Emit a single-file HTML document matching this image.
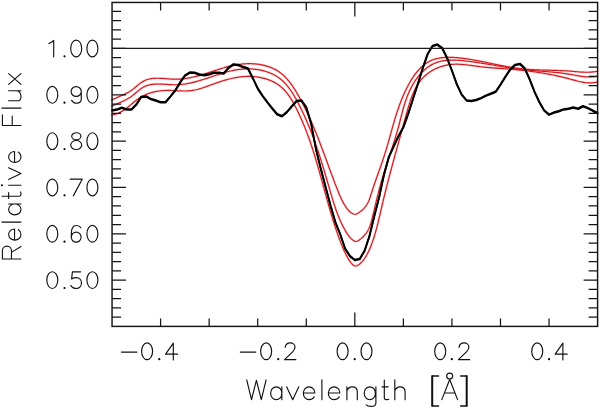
<!DOCTYPE html>
<html><head><meta charset="utf-8"><style>
html,body{margin:0;padding:0;background:#fff;width:600px;height:407px;overflow:hidden;font-family:"Liberation Sans",sans-serif}
svg{display:block}
</style></head><body>
<svg width="600" height="407" viewBox="0 0 600 407">
<rect width="600" height="407" fill="#fff"/>
<g fill="none" stroke-linejoin="round" stroke-linecap="round">
<g stroke="#ff4a4a" stroke-width="2.6" opacity="0.2">
<path d="M111.60,114.90 L112.75,114.76 L113.87,114.56 L114.96,114.32 L116.02,114.02 L117.06,113.68 L118.08,113.29 L119.08,112.87 L120.05,112.40 L121.00,111.90 L121.94,111.37 L122.86,110.81 L123.77,110.22 L124.66,109.60 L125.55,108.97 L126.42,108.31 L127.28,107.64 L128.13,106.96 L128.98,106.26 L129.83,105.56 L130.67,104.86 L131.51,104.15 L132.36,103.44 L133.20,102.73 L134.04,102.03 L134.90,101.34 L135.75,100.66 L136.62,100.00 L137.49,99.35 L138.37,98.72 L139.27,98.12 L140.18,97.53 L141.10,96.98 L142.04,96.45 L142.98,95.94 L143.94,95.46 L144.91,95.01 L145.89,94.57 L146.89,94.16 L147.89,93.78 L148.90,93.42 L149.91,93.07 L150.94,92.76 L151.97,92.46 L153.02,92.19 L154.06,91.93 L155.12,91.70 L156.18,91.49 L157.24,91.30 L158.31,91.12 L159.38,90.97 L160.46,90.84 L161.54,90.73 L162.62,90.63 L163.71,90.55 L164.79,90.50 L165.88,90.46 L166.96,90.43 L168.05,90.43 L169.14,90.43 L170.22,90.45 L171.31,90.49 L172.40,90.52 L173.48,90.57 L174.57,90.62 L175.65,90.68 L176.74,90.73 L177.82,90.79 L178.90,90.84 L179.99,90.89 L181.07,90.93 L182.15,90.96 L183.23,90.98 L184.30,90.99 L185.38,90.98 L186.45,90.96 L187.53,90.92 L188.60,90.86 L189.67,90.78 L190.74,90.67 L191.80,90.54 L192.87,90.38 L193.93,90.20 L194.99,89.98 L196.05,89.75 L197.10,89.49 L198.16,89.22 L199.21,88.92 L200.26,88.61 L201.31,88.28 L202.36,87.95 L203.40,87.60 L204.45,87.24 L205.49,86.87 L206.53,86.50 L207.57,86.12 L208.61,85.74 L209.65,85.36 L210.69,84.98 L211.72,84.60 L212.76,84.23 L213.79,83.86 L214.82,83.49 L215.85,83.12 L216.89,82.76 L217.92,82.41 L218.95,82.06 L219.98,81.72 L221.02,81.38 L222.05,81.05 L223.09,80.73 L224.12,80.41 L225.16,80.10 L226.20,79.80 L227.24,79.52 L228.28,79.24 L229.32,78.97 L230.37,78.71 L231.42,78.46 L232.47,78.22 L233.53,78.00 L234.58,77.79 L235.64,77.59 L236.71,77.41 L237.78,77.24 L238.85,77.08 L239.92,76.94 L241.00,76.82 L242.09,76.71 L243.17,76.62 L244.27,76.54 L245.36,76.48 L246.46,76.44 L247.57,76.42 L248.67,76.41 L249.77,76.42 L250.88,76.45 L251.99,76.50 L253.09,76.57 L254.20,76.65 L255.30,76.76 L256.40,76.88 L257.49,77.03 L258.58,77.19 L259.67,77.37 L260.75,77.58 L261.83,77.80 L262.89,78.05 L263.95,78.31 L265.01,78.60 L266.05,78.90 L267.08,79.23 L268.11,79.58 L269.12,79.95 L270.12,80.34 L271.11,80.76 L272.09,81.19 L273.05,81.65 L274.00,82.14 L274.93,82.64 L275.85,83.17 L276.75,83.72 L277.64,84.30 L278.50,84.90 L279.35,85.52 L280.18,86.17 L280.99,86.84 L281.79,87.53 L282.56,88.25 L283.32,88.99 L284.06,89.74 L284.78,90.52 L285.49,91.32 L286.18,92.13 L286.86,92.96 L287.52,93.81 L288.17,94.67 L288.81,95.55 L289.43,96.44 L290.04,97.35 L290.64,98.26 L291.23,99.19 L291.80,100.13 L292.37,101.08 L292.92,102.03 L293.47,103.00 L294.00,103.97 L294.53,104.95 L295.05,105.93 L295.57,106.92 L296.07,107.91 L296.57,108.90 L297.07,109.90 L297.55,110.90 L298.04,111.90 L298.51,112.90 L298.98,113.90 L299.45,114.90 L299.91,115.91 L300.37,116.91 L300.82,117.92 L301.27,118.92 L301.71,119.93 L302.15,120.94 L302.58,121.95 L303.01,122.97 L303.43,123.98 L303.85,124.99 L304.26,126.01 L304.68,127.02 L305.08,128.04 L305.48,129.06 L305.88,130.08 L306.27,131.10 L306.66,132.12 L307.05,133.14 L307.43,134.16 L307.81,135.18 L308.19,136.21 L308.56,137.23 L308.92,138.26 L309.29,139.29 L309.65,140.31 L310.01,141.34 L310.36,142.37 L310.71,143.40 L311.06,144.43 L311.41,145.46 L311.75,146.49 L312.09,147.53 L312.43,148.56 L312.76,149.59 L313.09,150.63 L313.42,151.66 L313.75,152.70 L314.07,153.73 L314.39,154.77 L314.71,155.81 L315.03,156.85 L315.34,157.88 L315.66,158.92 L315.97,159.96 L316.28,161.00 L316.58,162.04 L316.89,163.08 L317.19,164.12 L317.50,165.16 L317.80,166.20 L318.10,167.25 L318.40,168.29 L318.69,169.33 L318.99,170.37 L319.28,171.42 L319.57,172.46 L319.87,173.50 L320.16,174.55 L320.45,175.59 L320.74,176.64 L321.03,177.68 L321.32,178.73 L321.60,179.77 L321.89,180.82 L322.18,181.86 L322.46,182.91 L322.75,183.95 L323.04,185.00 L323.32,186.04 L323.61,187.09 L323.89,188.13 L324.18,189.18 L324.46,190.22 L324.75,191.27 L325.04,192.31 L325.32,193.36 L325.61,194.40 L325.90,195.45 L326.19,196.49 L326.48,197.54 L326.77,198.58 L327.06,199.63 L327.35,200.67 L327.64,201.71 L327.93,202.76 L328.23,203.80 L328.52,204.85 L328.82,205.89 L329.12,206.93 L329.42,207.97 L329.72,209.02 L330.02,210.06 L330.33,211.10 L330.63,212.14 L330.94,213.18 L331.25,214.22 L331.56,215.26 L331.88,216.30 L332.19,217.34 L332.51,218.38 L332.83,219.42 L333.15,220.45 L333.48,221.49 L333.80,222.53 L334.13,223.56 L334.46,224.60 L334.80,225.63 L335.14,226.67 L335.48,227.70 L335.82,228.73 L336.17,229.77 L336.51,230.80 L336.87,231.83 L337.22,232.86 L337.58,233.89 L337.94,234.92 L338.31,235.95 L338.68,236.97 L339.05,238.00 L339.42,239.02 L339.80,240.05 L340.19,241.07 L340.57,242.10 L340.96,243.12 L341.36,244.13 L341.77,245.15 L342.17,246.16 L342.59,247.17 L343.01,248.17 L343.44,249.16 L343.88,250.15 L344.33,251.14 L344.79,252.11 L345.26,253.08 L345.73,254.04 L346.22,254.99 L346.72,255.94 L347.24,256.88 L347.77,257.82 L348.33,258.75 L348.90,259.69 L349.51,260.64 L350.15,261.59 L350.81,262.54 L351.52,263.44 L352.28,264.28 L353.09,265.00 L353.96,265.58 L354.88,265.95 L355.84,266.02 L356.81,265.76 L357.77,265.28 L358.70,264.67 L359.59,263.99 L360.43,263.26 L361.24,262.49 L362.01,261.69 L362.74,260.86 L363.44,260.00 L364.10,259.13 L364.74,258.24 L365.34,257.34 L365.92,256.42 L366.47,255.49 L366.99,254.54 L367.50,253.59 L367.99,252.62 L368.46,251.64 L368.92,250.66 L369.36,249.67 L369.79,248.68 L370.21,247.68 L370.62,246.68 L371.02,245.68 L371.42,244.67 L371.80,243.66 L372.17,242.64 L372.54,241.62 L372.90,240.60 L373.25,239.57 L373.59,238.54 L373.92,237.51 L374.25,236.47 L374.57,235.43 L374.89,234.39 L375.19,233.35 L375.50,232.30 L375.79,231.25 L376.08,230.21 L376.37,229.15 L376.65,228.10 L376.93,227.05 L377.20,225.99 L377.47,224.93 L377.73,223.87 L378.00,222.81 L378.25,221.75 L378.51,220.69 L378.76,219.63 L379.01,218.57 L379.26,217.50 L379.51,216.44 L379.76,215.38 L380.00,214.31 L380.25,213.25 L380.49,212.19 L380.74,211.13 L380.98,210.06 L381.23,209.00 L381.47,207.94 L381.72,206.88 L381.96,205.83 L382.21,204.77 L382.46,203.71 L382.71,202.66 L382.96,201.60 L383.22,200.55 L383.47,199.50 L383.72,198.45 L383.98,197.40 L384.24,196.35 L384.49,195.30 L384.75,194.25 L385.01,193.20 L385.27,192.15 L385.53,191.11 L385.80,190.06 L386.06,189.01 L386.32,187.97 L386.59,186.93 L386.85,185.88 L387.12,184.84 L387.39,183.80 L387.65,182.75 L387.92,181.71 L388.19,180.67 L388.46,179.63 L388.73,178.59 L389.01,177.54 L389.28,176.50 L389.55,175.46 L389.83,174.42 L390.10,173.38 L390.38,172.34 L390.65,171.30 L390.93,170.26 L391.21,169.22 L391.49,168.18 L391.77,167.14 L392.05,166.10 L392.33,165.06 L392.61,164.02 L392.89,162.98 L393.17,161.94 L393.45,160.90 L393.74,159.86 L394.02,158.82 L394.31,157.78 L394.59,156.74 L394.88,155.70 L395.16,154.65 L395.45,153.61 L395.74,152.57 L396.02,151.52 L396.31,150.48 L396.60,149.43 L396.89,148.39 L397.18,147.34 L397.47,146.30 L397.76,145.25 L398.05,144.20 L398.34,143.16 L398.63,142.11 L398.92,141.06 L399.22,140.01 L399.51,138.96 L399.80,137.90 L400.10,136.85 L400.39,135.80 L400.68,134.74 L400.98,133.69 L401.27,132.63 L401.57,131.57 L401.86,130.52 L402.16,129.46 L402.45,128.40 L402.75,127.33 L403.05,126.27 L403.34,125.21 L403.64,124.14 L403.94,123.08 L404.23,122.01 L404.53,120.94 L404.83,119.87 L405.13,118.80 L405.42,117.73 L405.72,116.65 L406.02,115.58 L406.32,114.50 L406.61,113.42 L406.91,112.34 L407.21,111.26 L407.52,110.18 L407.82,109.11 L408.13,108.03 L408.44,106.95 L408.76,105.88 L409.08,104.81 L409.41,103.75 L409.75,102.68 L410.09,101.63 L410.44,100.57 L410.79,99.53 L411.16,98.49 L411.53,97.45 L411.92,96.42 L412.31,95.40 L412.72,94.39 L413.13,93.39 L413.56,92.39 L414.01,91.41 L414.46,90.43 L414.93,89.47 L415.42,88.52 L415.92,87.58 L416.43,86.65 L416.96,85.73 L417.51,84.83 L418.08,83.94 L418.66,83.07 L419.27,82.21 L419.89,81.37 L420.53,80.54 L421.20,79.73 L421.88,78.93 L422.59,78.15 L423.32,77.39 L424.07,76.65 L424.84,75.93 L425.63,75.23 L426.45,74.54 L427.28,73.88 L428.13,73.24 L429.00,72.61 L429.89,72.01 L430.79,71.42 L431.71,70.86 L432.65,70.32 L433.60,69.80 L434.56,69.30 L435.54,68.82 L436.53,68.36 L437.52,67.93 L438.53,67.52 L439.56,67.13 L440.58,66.77 L441.62,66.43 L442.67,66.11 L443.72,65.81 L444.78,65.55 L445.85,65.30 L446.92,65.08 L447.99,64.89 L449.07,64.72 L450.15,64.57 L451.23,64.45 L452.31,64.36 L453.40,64.29 L454.48,64.24 L455.57,64.21 L456.66,64.21 L457.75,64.22 L458.84,64.25 L459.94,64.30 L461.03,64.36 L462.12,64.44 L463.22,64.53 L464.31,64.63 L465.41,64.74 L466.51,64.86 L467.60,64.99 L468.70,65.12 L469.79,65.27 L470.89,65.41 L471.98,65.56 L473.08,65.71 L474.17,65.86 L475.27,66.02 L476.36,66.17 L477.45,66.32 L478.55,66.46 L479.64,66.60 L480.73,66.73 L481.82,66.86 L482.90,66.98 L483.99,67.10 L485.07,67.21 L486.16,67.32 L487.24,67.42 L488.33,67.52 L489.41,67.62 L490.49,67.71 L491.57,67.80 L492.65,67.89 L493.73,67.97 L494.81,68.05 L495.89,68.13 L496.97,68.21 L498.04,68.29 L499.12,68.37 L500.20,68.44 L501.27,68.52 L502.35,68.59 L503.43,68.67 L504.50,68.75 L505.58,68.82 L506.66,68.90 L507.73,68.98 L508.81,69.07 L509.89,69.15 L510.96,69.24 L512.04,69.33 L513.12,69.42 L514.19,69.52 L515.27,69.61 L516.35,69.71 L517.43,69.82 L518.50,69.92 L519.58,70.03 L520.66,70.14 L521.74,70.26 L522.81,70.37 L523.89,70.49 L524.97,70.62 L526.04,70.74 L527.12,70.87 L528.20,71.01 L529.27,71.14 L530.35,71.28 L531.43,71.42 L532.50,71.57 L533.58,71.72 L534.65,71.87 L535.73,72.02 L536.80,72.18 L537.87,72.34 L538.95,72.51 L540.02,72.68 L541.09,72.85 L542.16,73.03 L543.24,73.21 L544.31,73.39 L545.38,73.58 L546.45,73.77 L547.51,73.96 L548.58,74.16 L549.65,74.36 L550.72,74.57 L551.78,74.78 L552.85,74.99 L553.91,75.21 L554.97,75.43 L556.04,75.66 L557.10,75.89 L558.16,76.12 L559.22,76.36 L560.28,76.60 L561.34,76.85 L562.39,77.10 L563.45,77.36 L564.51,77.62 L565.56,77.88 L566.61,78.15 L567.66,78.42 L568.72,78.70 L569.76,78.98 L570.81,79.27 L571.86,79.56 L572.91,79.85 L573.95,80.14 L575.00,80.42 L576.05,80.70 L577.10,80.98 L578.15,81.24 L579.20,81.49 L580.25,81.73 L581.30,81.95 L582.36,82.15 L583.42,82.33 L584.49,82.49 L585.56,82.63 L586.63,82.73 L587.71,82.81 L588.79,82.86 L589.88,82.87 L590.97,82.85 L592.07,82.79 L593.17,82.69 L594.28,82.55 L595.40,82.36 L596.53,82.13 L597.66,81.85"/><path d="M111.71,106.20 L112.70,105.74 L113.68,105.29 L114.65,104.85 L115.61,104.42 L116.57,104.01 L117.53,103.59 L118.47,103.19 L119.41,102.78 L120.34,102.37 L121.27,101.96 L122.19,101.55 L123.10,101.13 L124.01,100.70 L124.91,100.25 L125.81,99.80 L126.70,99.32 L127.58,98.83 L128.46,98.32 L129.33,97.79 L130.20,97.23 L131.07,96.64 L131.93,96.03 L132.78,95.38 L133.63,94.71 L134.48,94.01 L135.32,93.29 L136.17,92.57 L137.02,91.85 L137.87,91.13 L138.72,90.42 L139.58,89.74 L140.45,89.07 L141.33,88.44 L142.22,87.85 L143.12,87.31 L144.04,86.82 L144.96,86.37 L145.90,85.97 L146.85,85.62 L147.81,85.31 L148.78,85.04 L149.76,84.80 L150.75,84.60 L151.75,84.44 L152.75,84.30 L153.76,84.20 L154.78,84.12 L155.81,84.07 L156.84,84.03 L157.88,84.02 L158.92,84.03 L159.97,84.05 L161.02,84.09 L162.08,84.13 L163.13,84.19 L164.19,84.25 L165.25,84.32 L166.31,84.39 L167.38,84.46 L168.44,84.53 L169.50,84.60 L170.56,84.65 L171.62,84.70 L172.68,84.74 L173.73,84.77 L174.78,84.78 L175.83,84.77 L176.87,84.75 L177.91,84.71 L178.95,84.65 L179.98,84.58 L181.01,84.49 L182.03,84.38 L183.06,84.26 L184.08,84.13 L185.09,83.98 L186.11,83.82 L187.12,83.64 L188.13,83.46 L189.13,83.26 L190.13,83.05 L191.14,82.83 L192.13,82.60 L193.13,82.36 L194.13,82.11 L195.12,81.85 L196.11,81.59 L197.10,81.31 L198.09,81.03 L199.08,80.74 L200.06,80.45 L201.05,80.15 L202.03,79.84 L203.01,79.53 L203.99,79.22 L204.97,78.90 L205.95,78.58 L206.93,78.26 L207.91,77.93 L208.89,77.60 L209.87,77.28 L210.85,76.95 L211.83,76.62 L212.81,76.29 L213.79,75.96 L214.77,75.63 L215.75,75.31 L216.74,74.98 L217.72,74.66 L218.70,74.35 L219.69,74.03 L220.67,73.73 L221.66,73.42 L222.65,73.12 L223.64,72.83 L224.63,72.55 L225.62,72.27 L226.62,71.99 L227.61,71.73 L228.61,71.47 L229.61,71.23 L230.62,70.99 L231.62,70.76 L232.63,70.55 L233.64,70.34 L234.66,70.15 L235.67,69.96 L236.69,69.79 L237.72,69.63 L238.74,69.49 L239.77,69.36 L240.80,69.24 L241.84,69.14 L242.88,69.06 L243.92,68.99 L244.97,68.93 L246.02,68.90 L247.07,68.87 L248.13,68.87 L249.18,68.88 L250.24,68.91 L251.29,68.96 L252.35,69.02 L253.40,69.10 L254.45,69.20 L255.50,69.31 L256.55,69.44 L257.60,69.59 L258.64,69.76 L259.67,69.95 L260.70,70.15 L261.73,70.37 L262.75,70.61 L263.76,70.87 L264.77,71.15 L265.77,71.45 L266.76,71.76 L267.74,72.10 L268.71,72.45 L269.67,72.82 L270.62,73.21 L271.56,73.62 L272.49,74.05 L273.41,74.51 L274.32,74.98 L275.21,75.47 L276.08,75.98 L276.95,76.51 L277.80,77.06 L278.63,77.63 L279.45,78.22 L280.25,78.84 L281.03,79.47 L281.80,80.13 L282.55,80.80 L283.29,81.49 L284.01,82.20 L284.72,82.93 L285.41,83.67 L286.10,84.43 L286.76,85.20 L287.42,85.99 L288.06,86.79 L288.69,87.61 L289.31,88.43 L289.92,89.27 L290.51,90.12 L291.10,90.98 L291.68,91.85 L292.25,92.73 L292.81,93.62 L293.36,94.51 L293.90,95.41 L294.43,96.32 L294.96,97.23 L295.48,98.15 L296.00,99.08 L296.51,100.00 L297.01,100.93 L297.51,101.86 L298.00,102.80 L298.49,103.73 L298.97,104.67 L299.45,105.60 L299.92,106.54 L300.40,107.48 L300.86,108.42 L301.32,109.36 L301.78,110.30 L302.23,111.25 L302.68,112.19 L303.13,113.14 L303.57,114.09 L304.01,115.04 L304.44,115.99 L304.87,116.94 L305.30,117.89 L305.72,118.84 L306.14,119.79 L306.55,120.75 L306.97,121.70 L307.37,122.66 L307.78,123.62 L308.18,124.58 L308.58,125.54 L308.97,126.50 L309.36,127.46 L309.75,128.42 L310.14,129.39 L310.52,130.35 L310.90,131.32 L311.27,132.28 L311.64,133.25 L312.01,134.22 L312.38,135.19 L312.75,136.16 L313.11,137.13 L313.47,138.10 L313.82,139.07 L314.17,140.04 L314.53,141.02 L314.87,141.99 L315.22,142.97 L315.56,143.94 L315.90,144.92 L316.24,145.90 L316.58,146.87 L316.91,147.85 L317.25,148.83 L317.58,149.81 L317.91,150.79 L318.23,151.77 L318.56,152.76 L318.88,153.74 L319.20,154.72 L319.52,155.71 L319.84,156.69 L320.15,157.68 L320.46,158.66 L320.78,159.65 L321.09,160.63 L321.40,161.62 L321.71,162.61 L322.01,163.60 L322.32,164.58 L322.62,165.57 L322.92,166.56 L323.23,167.55 L323.53,168.54 L323.83,169.53 L324.12,170.53 L324.42,171.52 L324.72,172.51 L325.01,173.50 L325.31,174.49 L325.60,175.49 L325.90,176.48 L326.19,177.48 L326.48,178.47 L326.77,179.46 L327.07,180.46 L327.36,181.45 L327.65,182.45 L327.94,183.44 L328.23,184.44 L328.52,185.44 L328.81,186.43 L329.10,187.43 L329.39,188.42 L329.67,189.42 L329.96,190.42 L330.25,191.41 L330.54,192.41 L330.83,193.41 L331.13,194.41 L331.42,195.40 L331.71,196.40 L332.01,197.39 L332.31,198.39 L332.61,199.38 L332.91,200.38 L333.22,201.37 L333.53,202.36 L333.84,203.35 L334.16,204.34 L334.48,205.33 L334.80,206.31 L335.13,207.30 L335.47,208.28 L335.81,209.26 L336.15,210.24 L336.50,211.22 L336.86,212.20 L337.22,213.17 L337.59,214.14 L337.96,215.11 L338.35,216.08 L338.74,217.04 L339.13,218.00 L339.54,218.96 L339.95,219.91 L340.37,220.87 L340.80,221.82 L341.24,222.76 L341.69,223.71 L342.15,224.65 L342.62,225.58 L343.09,226.51 L343.58,227.44 L344.08,228.37 L344.59,229.29 L345.11,230.21 L345.64,231.12 L346.19,232.03 L346.74,232.93 L347.31,233.82 L347.91,234.70 L348.52,235.55 L349.15,236.38 L349.82,237.18 L350.51,237.95 L351.23,238.69 L351.98,239.38 L352.78,240.02 L353.61,240.61 L354.47,241.10 L355.36,241.42 L356.26,241.50 L357.18,241.29 L358.09,240.80 L358.99,240.18 L359.87,239.53 L360.72,238.86 L361.55,238.17 L362.35,237.46 L363.12,236.72 L363.86,235.96 L364.57,235.18 L365.24,234.39 L365.88,233.57 L366.49,232.73 L367.06,231.88 L367.60,231.00 L368.10,230.11 L368.57,229.20 L369.01,228.27 L369.42,227.33 L369.80,226.38 L370.16,225.42 L370.50,224.44 L370.82,223.46 L371.12,222.46 L371.40,221.46 L371.68,220.46 L371.94,219.45 L372.20,218.43 L372.45,217.42 L372.69,216.40 L372.94,215.38 L373.18,214.37 L373.42,213.35 L373.66,212.33 L373.90,211.32 L374.14,210.30 L374.38,209.29 L374.62,208.27 L374.86,207.26 L375.10,206.24 L375.34,205.23 L375.58,204.22 L375.82,203.21 L376.07,202.19 L376.31,201.18 L376.55,200.17 L376.80,199.16 L377.04,198.15 L377.29,197.14 L377.54,196.14 L377.79,195.13 L378.04,194.12 L378.29,193.11 L378.55,192.11 L378.80,191.10 L379.06,190.10 L379.32,189.09 L379.59,188.09 L379.85,187.09 L380.12,186.09 L380.39,185.08 L380.67,184.08 L380.95,183.08 L381.23,182.08 L381.51,181.09 L381.80,180.09 L382.09,179.09 L382.38,178.09 L382.68,177.10 L382.98,176.10 L383.28,175.11 L383.58,174.11 L383.89,173.12 L384.20,172.13 L384.51,171.13 L384.82,170.14 L385.14,169.15 L385.46,168.16 L385.77,167.17 L386.09,166.18 L386.42,165.19 L386.74,164.20 L387.06,163.21 L387.39,162.22 L387.71,161.23 L388.04,160.24 L388.37,159.25 L388.69,158.26 L389.02,157.27 L389.35,156.28 L389.68,155.29 L390.00,154.30 L390.33,153.31 L390.66,152.33 L390.99,151.34 L391.31,150.35 L391.64,149.36 L391.96,148.37 L392.28,147.38 L392.61,146.39 L392.93,145.40 L393.25,144.41 L393.56,143.42 L393.88,142.43 L394.19,141.44 L394.51,140.44 L394.82,139.45 L395.12,138.46 L395.43,137.47 L395.73,136.47 L396.03,135.48 L396.33,134.48 L396.62,133.49 L396.92,132.49 L397.20,131.50 L397.49,130.50 L397.77,129.50 L398.05,128.50 L398.32,127.50 L398.59,126.50 L398.86,125.50 L399.12,124.50 L399.39,123.50 L399.64,122.50 L399.90,121.49 L400.16,120.49 L400.41,119.49 L400.67,118.48 L400.92,117.48 L401.18,116.48 L401.43,115.48 L401.69,114.48 L401.95,113.47 L402.21,112.47 L402.48,111.47 L402.75,110.48 L403.02,109.48 L403.30,108.48 L403.58,107.49 L403.87,106.49 L404.16,105.50 L404.46,104.51 L404.77,103.52 L405.08,102.53 L405.40,101.55 L405.73,100.56 L406.07,99.58 L406.42,98.60 L406.77,97.62 L407.14,96.65 L407.52,95.68 L407.90,94.71 L408.30,93.74 L408.71,92.78 L409.14,91.82 L409.57,90.86 L410.02,89.90 L410.49,88.95 L410.96,88.00 L411.46,87.06 L411.96,86.12 L412.48,85.19 L413.01,84.27 L413.55,83.35 L414.11,82.44 L414.68,81.54 L415.27,80.65 L415.87,79.77 L416.48,78.90 L417.10,78.05 L417.74,77.20 L418.39,76.37 L419.06,75.55 L419.73,74.74 L420.42,73.95 L421.13,73.18 L421.84,72.42 L422.57,71.68 L423.31,70.96 L424.07,70.26 L424.83,69.57 L425.61,68.91 L426.40,68.26 L427.21,67.64 L428.03,67.04 L428.86,66.46 L429.70,65.90 L430.55,65.37 L431.42,64.86 L432.30,64.38 L433.19,63.92 L434.09,63.50 L435.01,63.09 L435.93,62.72 L436.87,62.38 L437.82,62.06 L438.79,61.77 L439.76,61.51 L440.74,61.27 L441.74,61.06 L442.74,60.87 L443.75,60.71 L444.76,60.57 L445.79,60.44 L446.82,60.34 L447.86,60.26 L448.90,60.20 L449.95,60.16 L451.00,60.13 L452.06,60.12 L453.12,60.12 L454.19,60.14 L455.25,60.17 L456.32,60.21 L457.39,60.26 L458.46,60.33 L459.53,60.40 L460.60,60.49 L461.67,60.58 L462.74,60.68 L463.81,60.78 L464.87,60.89 L465.93,61.01 L466.99,61.13 L468.04,61.25 L469.10,61.38 L470.15,61.51 L471.19,61.64 L472.24,61.78 L473.28,61.92 L474.32,62.07 L475.36,62.21 L476.39,62.36 L477.43,62.52 L478.46,62.67 L479.49,62.83 L480.51,62.99 L481.54,63.15 L482.56,63.31 L483.59,63.48 L484.61,63.65 L485.63,63.82 L486.65,63.99 L487.66,64.16 L488.68,64.33 L489.69,64.50 L490.71,64.68 L491.72,64.85 L492.73,65.02 L493.74,65.20 L494.76,65.37 L495.77,65.55 L496.78,65.72 L497.78,65.90 L498.79,66.07 L499.80,66.24 L500.81,66.42 L501.82,66.59 L502.83,66.76 L503.84,66.92 L504.85,67.09 L505.85,67.26 L506.86,67.42 L507.87,67.58 L508.88,67.74 L509.90,67.90 L510.91,68.05 L511.92,68.21 L512.93,68.36 L513.95,68.50 L514.96,68.65 L515.98,68.79 L517.00,68.92 L518.02,69.06 L519.04,69.19 L520.06,69.31 L521.08,69.43 L522.11,69.55 L523.13,69.67 L524.16,69.78 L525.19,69.88 L526.22,69.98 L527.25,70.08 L528.29,70.18 L529.32,70.27 L530.36,70.36 L531.40,70.45 L532.43,70.54 L533.47,70.62 L534.51,70.71 L535.55,70.79 L536.59,70.87 L537.64,70.95 L538.68,71.03 L539.72,71.10 L540.77,71.18 L541.81,71.26 L542.85,71.34 L543.90,71.42 L544.94,71.50 L545.98,71.58 L547.03,71.66 L548.07,71.74 L549.11,71.83 L550.16,71.92 L551.20,72.01 L552.24,72.10 L553.28,72.20 L554.32,72.29 L555.36,72.40 L556.40,72.50 L557.44,72.61 L558.48,72.72 L559.52,72.84 L560.55,72.96 L561.58,73.08 L562.62,73.22 L563.65,73.35 L564.68,73.49 L565.71,73.64 L566.73,73.79 L567.76,73.95 L568.78,74.12 L569.80,74.29 L570.82,74.47 L571.84,74.65 L572.86,74.84 L573.87,75.03 L574.89,75.22 L575.90,75.41 L576.91,75.60 L577.93,75.78 L578.94,75.96 L579.96,76.13 L580.98,76.29 L581.99,76.44 L583.01,76.57 L584.03,76.69 L585.06,76.79 L586.09,76.88 L587.12,76.94 L588.15,76.99 L589.19,77.01 L590.23,77.00 L591.27,76.97 L592.32,76.91 L593.38,76.82 L594.44,76.69 L595.50,76.54 L596.58,76.35 L597.65,76.12"/><path d="M111.69,100.05 L112.61,99.58 L113.52,99.14 L114.42,98.71 L115.33,98.29 L116.23,97.88 L117.13,97.48 L118.02,97.09 L118.92,96.70 L119.80,96.31 L120.69,95.93 L121.57,95.54 L122.45,95.15 L123.32,94.76 L124.19,94.36 L125.05,93.95 L125.91,93.52 L126.76,93.09 L127.61,92.64 L128.45,92.17 L129.28,91.68 L130.12,91.17 L130.94,90.63 L131.76,90.07 L132.57,89.48 L133.38,88.87 L134.18,88.23 L134.98,87.58 L135.78,86.91 L136.57,86.24 L137.37,85.57 L138.17,84.91 L138.97,84.25 L139.78,83.62 L140.60,83.01 L141.42,82.43 L142.25,81.88 L143.09,81.37 L143.95,80.91 L144.82,80.50 L145.70,80.12 L146.58,79.79 L147.48,79.49 L148.39,79.23 L149.31,79.01 L150.24,78.81 L151.17,78.65 L152.12,78.52 L153.07,78.42 L154.03,78.34 L154.99,78.28 L155.96,78.25 L156.94,78.23 L157.92,78.24 L158.91,78.25 L159.90,78.29 L160.89,78.33 L161.89,78.39 L162.89,78.46 L163.89,78.53 L164.89,78.60 L165.90,78.68 L166.90,78.76 L167.91,78.84 L168.92,78.92 L169.92,78.99 L170.93,79.06 L171.93,79.12 L172.93,79.16 L173.93,79.20 L174.93,79.22 L175.92,79.23 L176.91,79.22 L177.90,79.19 L178.88,79.15 L179.86,79.10 L180.84,79.03 L181.81,78.95 L182.79,78.85 L183.75,78.75 L184.72,78.62 L185.68,78.49 L186.65,78.35 L187.60,78.19 L188.56,78.02 L189.52,77.85 L190.47,77.66 L191.42,77.46 L192.37,77.26 L193.31,77.04 L194.26,76.82 L195.20,76.59 L196.14,76.35 L197.08,76.10 L198.02,75.85 L198.96,75.59 L199.90,75.33 L200.83,75.06 L201.77,74.78 L202.70,74.50 L203.63,74.22 L204.57,73.93 L205.50,73.64 L206.43,73.34 L207.36,73.04 L208.29,72.74 L209.22,72.44 L210.15,72.14 L211.08,71.84 L212.01,71.53 L212.94,71.23 L213.87,70.93 L214.80,70.62 L215.73,70.32 L216.67,70.02 L217.60,69.72 L218.53,69.43 L219.47,69.13 L220.40,68.84 L221.34,68.56 L222.27,68.27 L223.21,68.00 L224.15,67.72 L225.09,67.45 L226.03,67.19 L226.98,66.94 L227.92,66.69 L228.87,66.44 L229.82,66.21 L230.77,65.98 L231.72,65.76 L232.68,65.55 L233.64,65.35 L234.60,65.16 L235.56,64.97 L236.52,64.80 L237.49,64.64 L238.46,64.49 L239.43,64.35 L240.41,64.22 L241.38,64.11 L242.37,64.00 L243.35,63.91 L244.34,63.84 L245.33,63.78 L246.32,63.73 L247.31,63.69 L248.31,63.67 L249.30,63.67 L250.30,63.67 L251.30,63.70 L252.29,63.73 L253.29,63.79 L254.28,63.85 L255.28,63.93 L256.27,64.03 L257.25,64.14 L258.24,64.27 L259.22,64.42 L260.20,64.58 L261.17,64.75 L262.14,64.94 L263.10,65.15 L264.06,65.38 L265.01,65.62 L265.95,65.87 L266.89,66.15 L267.82,66.44 L268.74,66.75 L269.66,67.08 L270.56,67.42 L271.46,67.78 L272.34,68.16 L273.22,68.56 L274.09,68.97 L274.94,69.40 L275.78,69.86 L276.62,70.33 L277.43,70.81 L278.24,71.32 L279.03,71.85 L279.81,72.39 L280.58,72.96 L281.33,73.54 L282.07,74.14 L282.80,74.76 L283.51,75.40 L284.21,76.05 L284.90,76.72 L285.57,77.40 L286.24,78.10 L286.89,78.81 L287.53,79.54 L288.17,80.27 L288.79,81.03 L289.40,81.79 L290.00,82.56 L290.59,83.34 L291.18,84.14 L291.75,84.94 L292.32,85.75 L292.88,86.57 L293.43,87.40 L293.98,88.23 L294.51,89.07 L295.04,89.92 L295.57,90.77 L296.09,91.63 L296.60,92.49 L297.10,93.35 L297.61,94.22 L298.10,95.09 L298.60,95.96 L299.08,96.83 L299.57,97.70 L300.05,98.57 L300.52,99.45 L301.00,100.32 L301.46,101.20 L301.93,102.08 L302.39,102.96 L302.85,103.84 L303.30,104.72 L303.75,105.60 L304.20,106.49 L304.64,107.37 L305.08,108.26 L305.51,109.14 L305.95,110.03 L306.37,110.92 L306.80,111.81 L307.22,112.69 L307.64,113.59 L308.06,114.48 L308.47,115.37 L308.88,116.26 L309.29,117.16 L309.70,118.05 L310.10,118.95 L310.50,119.84 L310.90,120.74 L311.29,121.64 L311.68,122.54 L312.07,123.43 L312.46,124.33 L312.84,125.24 L313.22,126.14 L313.60,127.04 L313.98,127.94 L314.36,128.84 L314.73,129.75 L315.10,130.65 L315.47,131.56 L315.84,132.46 L316.20,133.37 L316.57,134.28 L316.93,135.18 L317.29,136.09 L317.65,137.00 L318.01,137.91 L318.36,138.82 L318.72,139.73 L319.07,140.64 L319.42,141.55 L319.77,142.46 L320.12,143.37 L320.47,144.28 L320.81,145.19 L321.16,146.10 L321.50,147.02 L321.85,147.93 L322.19,148.84 L322.53,149.76 L322.87,150.67 L323.21,151.58 L323.55,152.50 L323.89,153.41 L324.23,154.33 L324.57,155.24 L324.90,156.16 L325.24,157.07 L325.58,157.99 L325.91,158.90 L326.25,159.82 L326.58,160.74 L326.92,161.65 L327.26,162.57 L327.59,163.49 L327.93,164.40 L328.26,165.32 L328.60,166.23 L328.93,167.15 L329.27,168.07 L329.61,168.98 L329.94,169.90 L330.28,170.82 L330.62,171.73 L330.96,172.65 L331.30,173.56 L331.64,174.48 L331.98,175.40 L332.32,176.31 L332.66,177.23 L333.00,178.14 L333.35,179.06 L333.69,179.97 L334.04,180.89 L334.39,181.80 L334.73,182.72 L335.08,183.63 L335.44,184.55 L335.79,185.46 L336.14,186.37 L336.50,187.29 L336.85,188.20 L337.21,189.11 L337.57,190.02 L337.93,190.94 L338.30,191.85 L338.66,192.76 L339.04,193.67 L339.41,194.57 L339.80,195.48 L340.19,196.38 L340.59,197.28 L341.00,198.17 L341.42,199.07 L341.85,199.96 L342.29,200.84 L342.75,201.72 L343.22,202.59 L343.71,203.46 L344.21,204.33 L344.72,205.19 L345.26,206.04 L345.82,206.88 L346.39,207.71 L346.99,208.52 L347.61,209.31 L348.25,210.07 L348.93,210.79 L349.62,211.47 L350.35,212.10 L351.11,212.68 L351.90,213.20 L352.73,213.65 L353.59,214.01 L354.47,214.23 L355.36,214.25 L356.26,214.07 L357.15,213.71 L358.03,213.23 L358.89,212.67 L359.72,212.07 L360.54,211.46 L361.32,210.83 L362.08,210.18 L362.82,209.51 L363.52,208.82 L364.20,208.11 L364.84,207.37 L365.45,206.62 L366.02,205.85 L366.57,205.05 L367.07,204.23 L367.55,203.40 L367.99,202.54 L368.41,201.67 L368.80,200.78 L369.17,199.88 L369.52,198.97 L369.86,198.05 L370.18,197.12 L370.49,196.18 L370.79,195.24 L371.09,194.29 L371.39,193.35 L371.68,192.40 L371.98,191.46 L372.28,190.51 L372.58,189.57 L372.89,188.63 L373.20,187.69 L373.51,186.76 L373.83,185.82 L374.14,184.89 L374.46,183.95 L374.78,183.02 L375.10,182.09 L375.43,181.16 L375.75,180.23 L376.08,179.31 L376.40,178.38 L376.73,177.45 L377.06,176.53 L377.39,175.60 L377.72,174.68 L378.04,173.76 L378.37,172.83 L378.70,171.91 L379.03,170.99 L379.36,170.06 L379.69,169.14 L380.02,168.22 L380.34,167.29 L380.67,166.37 L380.99,165.45 L381.31,164.52 L381.63,163.60 L381.95,162.67 L382.27,161.75 L382.59,160.82 L382.90,159.89 L383.21,158.97 L383.52,158.04 L383.83,157.11 L384.13,156.18 L384.43,155.25 L384.73,154.31 L385.02,153.38 L385.31,152.44 L385.60,151.51 L385.88,150.57 L386.17,149.63 L386.45,148.69 L386.73,147.75 L387.00,146.81 L387.28,145.87 L387.55,144.93 L387.82,143.99 L388.09,143.04 L388.36,142.10 L388.63,141.15 L388.90,140.21 L389.16,139.26 L389.43,138.32 L389.69,137.37 L389.95,136.42 L390.22,135.48 L390.48,134.53 L390.75,133.59 L391.01,132.64 L391.27,131.69 L391.54,130.75 L391.80,129.80 L392.07,128.85 L392.33,127.91 L392.60,126.96 L392.87,126.02 L393.14,125.07 L393.41,124.13 L393.69,123.18 L393.96,122.24 L394.24,121.30 L394.52,120.35 L394.80,119.41 L395.08,118.47 L395.37,117.53 L395.66,116.59 L395.95,115.65 L396.24,114.72 L396.54,113.78 L396.84,112.84 L397.14,111.91 L397.45,110.98 L397.76,110.05 L398.08,109.12 L398.40,108.19 L398.72,107.26 L399.05,106.33 L399.38,105.41 L399.71,104.49 L400.05,103.56 L400.40,102.64 L400.75,101.73 L401.11,100.81 L401.47,99.90 L401.83,98.98 L402.21,98.07 L402.58,97.16 L402.97,96.26 L403.36,95.35 L403.75,94.45 L404.15,93.55 L404.56,92.65 L404.98,91.75 L405.40,90.86 L405.83,89.97 L406.26,89.08 L406.70,88.19 L407.15,87.31 L407.61,86.43 L408.07,85.55 L408.55,84.67 L409.03,83.80 L409.52,82.93 L410.01,82.07 L410.52,81.21 L411.03,80.35 L411.55,79.50 L412.08,78.66 L412.62,77.83 L413.17,77.00 L413.73,76.18 L414.30,75.37 L414.88,74.58 L415.46,73.79 L416.06,73.01 L416.67,72.25 L417.29,71.50 L417.92,70.76 L418.56,70.03 L419.20,69.32 L419.87,68.63 L420.54,67.95 L421.22,67.29 L421.92,66.65 L422.62,66.02 L423.34,65.41 L424.07,64.82 L424.81,64.25 L425.57,63.71 L426.33,63.18 L427.11,62.67 L427.91,62.19 L428.71,61.73 L429.53,61.30 L430.36,60.88 L431.21,60.50 L432.06,60.14 L432.94,59.80 L433.82,59.49 L434.72,59.20 L435.62,58.94 L436.54,58.70 L437.47,58.48 L438.41,58.28 L439.36,58.10 L440.31,57.94 L441.28,57.80 L442.25,57.68 L443.23,57.58 L444.22,57.50 L445.21,57.43 L446.21,57.38 L447.22,57.35 L448.23,57.33 L449.24,57.32 L450.26,57.33 L451.28,57.35 L452.30,57.38 L453.33,57.43 L454.36,57.49 L455.38,57.56 L456.41,57.64 L457.44,57.72 L458.47,57.82 L459.50,57.93 L460.53,58.04 L461.55,58.16 L462.58,58.29 L463.60,58.42 L464.61,58.56 L465.62,58.70 L466.63,58.85 L467.64,59.00 L468.64,59.15 L469.63,59.31 L470.63,59.47 L471.62,59.64 L472.60,59.80 L473.59,59.98 L474.57,60.15 L475.54,60.33 L476.52,60.51 L477.49,60.69 L478.46,60.87 L479.42,61.06 L480.39,61.25 L481.35,61.44 L482.30,61.63 L483.26,61.82 L484.21,62.01 L485.17,62.21 L486.12,62.40 L487.07,62.60 L488.01,62.80 L488.96,63.00 L489.90,63.19 L490.85,63.39 L491.79,63.59 L492.73,63.79 L493.67,63.98 L494.61,64.18 L495.54,64.37 L496.48,64.57 L497.42,64.76 L498.36,64.95 L499.29,65.14 L500.23,65.33 L501.16,65.52 L502.10,65.70 L503.04,65.89 L503.97,66.07 L504.91,66.24 L505.85,66.42 L506.79,66.59 L507.73,66.76 L508.67,66.93 L509.61,67.09 L510.55,67.25 L511.49,67.41 L512.43,67.56 L513.38,67.71 L514.33,67.85 L515.28,67.99 L516.23,68.12 L517.18,68.25 L518.13,68.38 L519.09,68.50 L520.05,68.62 L521.01,68.72 L521.97,68.83 L522.94,68.93 L523.91,69.02 L524.88,69.11 L525.85,69.19 L526.82,69.27 L527.80,69.34 L528.78,69.41 L529.76,69.48 L530.74,69.54 L531.73,69.60 L532.71,69.65 L533.70,69.70 L534.69,69.75 L535.68,69.79 L536.67,69.83 L537.66,69.87 L538.65,69.91 L539.64,69.94 L540.64,69.98 L541.63,70.01 L542.63,70.04 L543.62,70.07 L544.62,70.09 L545.62,70.12 L546.61,70.15 L547.61,70.17 L548.61,70.20 L549.60,70.22 L550.60,70.25 L551.60,70.28 L552.59,70.31 L553.59,70.33 L554.58,70.36 L555.58,70.39 L556.57,70.43 L557.56,70.46 L558.55,70.50 L559.54,70.54 L560.53,70.58 L561.52,70.62 L562.51,70.67 L563.49,70.72 L564.48,70.77 L565.46,70.83 L566.44,70.89 L567.42,70.95 L568.39,71.02 L569.37,71.09 L570.34,71.17 L571.31,71.25 L572.28,71.34 L573.24,71.42 L574.21,71.51 L575.17,71.60 L576.13,71.69 L577.10,71.77 L578.06,71.86 L579.02,71.93 L579.98,72.01 L580.95,72.07 L581.91,72.13 L582.87,72.18 L583.84,72.22 L584.81,72.25 L585.78,72.27 L586.75,72.27 L587.73,72.26 L588.70,72.24 L589.68,72.20 L590.67,72.14 L591.65,72.06 L592.64,71.96 L593.64,71.85 L594.64,71.71 L595.64,71.54 L596.65,71.36 L597.67,71.15"/>
</g>
<g stroke="#cf1c22" stroke-width="1.2">
<path d="M111.60,114.90 L112.75,114.76 L113.87,114.56 L114.96,114.32 L116.02,114.02 L117.06,113.68 L118.08,113.29 L119.08,112.87 L120.05,112.40 L121.00,111.90 L121.94,111.37 L122.86,110.81 L123.77,110.22 L124.66,109.60 L125.55,108.97 L126.42,108.31 L127.28,107.64 L128.13,106.96 L128.98,106.26 L129.83,105.56 L130.67,104.86 L131.51,104.15 L132.36,103.44 L133.20,102.73 L134.04,102.03 L134.90,101.34 L135.75,100.66 L136.62,100.00 L137.49,99.35 L138.37,98.72 L139.27,98.12 L140.18,97.53 L141.10,96.98 L142.04,96.45 L142.98,95.94 L143.94,95.46 L144.91,95.01 L145.89,94.57 L146.89,94.16 L147.89,93.78 L148.90,93.42 L149.91,93.07 L150.94,92.76 L151.97,92.46 L153.02,92.19 L154.06,91.93 L155.12,91.70 L156.18,91.49 L157.24,91.30 L158.31,91.12 L159.38,90.97 L160.46,90.84 L161.54,90.73 L162.62,90.63 L163.71,90.55 L164.79,90.50 L165.88,90.46 L166.96,90.43 L168.05,90.43 L169.14,90.43 L170.22,90.45 L171.31,90.49 L172.40,90.52 L173.48,90.57 L174.57,90.62 L175.65,90.68 L176.74,90.73 L177.82,90.79 L178.90,90.84 L179.99,90.89 L181.07,90.93 L182.15,90.96 L183.23,90.98 L184.30,90.99 L185.38,90.98 L186.45,90.96 L187.53,90.92 L188.60,90.86 L189.67,90.78 L190.74,90.67 L191.80,90.54 L192.87,90.38 L193.93,90.20 L194.99,89.98 L196.05,89.75 L197.10,89.49 L198.16,89.22 L199.21,88.92 L200.26,88.61 L201.31,88.28 L202.36,87.95 L203.40,87.60 L204.45,87.24 L205.49,86.87 L206.53,86.50 L207.57,86.12 L208.61,85.74 L209.65,85.36 L210.69,84.98 L211.72,84.60 L212.76,84.23 L213.79,83.86 L214.82,83.49 L215.85,83.12 L216.89,82.76 L217.92,82.41 L218.95,82.06 L219.98,81.72 L221.02,81.38 L222.05,81.05 L223.09,80.73 L224.12,80.41 L225.16,80.10 L226.20,79.80 L227.24,79.52 L228.28,79.24 L229.32,78.97 L230.37,78.71 L231.42,78.46 L232.47,78.22 L233.53,78.00 L234.58,77.79 L235.64,77.59 L236.71,77.41 L237.78,77.24 L238.85,77.08 L239.92,76.94 L241.00,76.82 L242.09,76.71 L243.17,76.62 L244.27,76.54 L245.36,76.48 L246.46,76.44 L247.57,76.42 L248.67,76.41 L249.77,76.42 L250.88,76.45 L251.99,76.50 L253.09,76.57 L254.20,76.65 L255.30,76.76 L256.40,76.88 L257.49,77.03 L258.58,77.19 L259.67,77.37 L260.75,77.58 L261.83,77.80 L262.89,78.05 L263.95,78.31 L265.01,78.60 L266.05,78.90 L267.08,79.23 L268.11,79.58 L269.12,79.95 L270.12,80.34 L271.11,80.76 L272.09,81.19 L273.05,81.65 L274.00,82.14 L274.93,82.64 L275.85,83.17 L276.75,83.72 L277.64,84.30 L278.50,84.90 L279.35,85.52 L280.18,86.17 L280.99,86.84 L281.79,87.53 L282.56,88.25 L283.32,88.99 L284.06,89.74 L284.78,90.52 L285.49,91.32 L286.18,92.13 L286.86,92.96 L287.52,93.81 L288.17,94.67 L288.81,95.55 L289.43,96.44 L290.04,97.35 L290.64,98.26 L291.23,99.19 L291.80,100.13 L292.37,101.08 L292.92,102.03 L293.47,103.00 L294.00,103.97 L294.53,104.95 L295.05,105.93 L295.57,106.92 L296.07,107.91 L296.57,108.90 L297.07,109.90 L297.55,110.90 L298.04,111.90 L298.51,112.90 L298.98,113.90 L299.45,114.90 L299.91,115.91 L300.37,116.91 L300.82,117.92 L301.27,118.92 L301.71,119.93 L302.15,120.94 L302.58,121.95 L303.01,122.97 L303.43,123.98 L303.85,124.99 L304.26,126.01 L304.68,127.02 L305.08,128.04 L305.48,129.06 L305.88,130.08 L306.27,131.10 L306.66,132.12 L307.05,133.14 L307.43,134.16 L307.81,135.18 L308.19,136.21 L308.56,137.23 L308.92,138.26 L309.29,139.29 L309.65,140.31 L310.01,141.34 L310.36,142.37 L310.71,143.40 L311.06,144.43 L311.41,145.46 L311.75,146.49 L312.09,147.53 L312.43,148.56 L312.76,149.59 L313.09,150.63 L313.42,151.66 L313.75,152.70 L314.07,153.73 L314.39,154.77 L314.71,155.81 L315.03,156.85 L315.34,157.88 L315.66,158.92 L315.97,159.96 L316.28,161.00 L316.58,162.04 L316.89,163.08 L317.19,164.12 L317.50,165.16 L317.80,166.20 L318.10,167.25 L318.40,168.29 L318.69,169.33 L318.99,170.37 L319.28,171.42 L319.57,172.46 L319.87,173.50 L320.16,174.55 L320.45,175.59 L320.74,176.64 L321.03,177.68 L321.32,178.73 L321.60,179.77 L321.89,180.82 L322.18,181.86 L322.46,182.91 L322.75,183.95 L323.04,185.00 L323.32,186.04 L323.61,187.09 L323.89,188.13 L324.18,189.18 L324.46,190.22 L324.75,191.27 L325.04,192.31 L325.32,193.36 L325.61,194.40 L325.90,195.45 L326.19,196.49 L326.48,197.54 L326.77,198.58 L327.06,199.63 L327.35,200.67 L327.64,201.71 L327.93,202.76 L328.23,203.80 L328.52,204.85 L328.82,205.89 L329.12,206.93 L329.42,207.97 L329.72,209.02 L330.02,210.06 L330.33,211.10 L330.63,212.14 L330.94,213.18 L331.25,214.22 L331.56,215.26 L331.88,216.30 L332.19,217.34 L332.51,218.38 L332.83,219.42 L333.15,220.45 L333.48,221.49 L333.80,222.53 L334.13,223.56 L334.46,224.60 L334.80,225.63 L335.14,226.67 L335.48,227.70 L335.82,228.73 L336.17,229.77 L336.51,230.80 L336.87,231.83 L337.22,232.86 L337.58,233.89 L337.94,234.92 L338.31,235.95 L338.68,236.97 L339.05,238.00 L339.42,239.02 L339.80,240.05 L340.19,241.07 L340.57,242.10 L340.96,243.12 L341.36,244.13 L341.77,245.15 L342.17,246.16 L342.59,247.17 L343.01,248.17 L343.44,249.16 L343.88,250.15 L344.33,251.14 L344.79,252.11 L345.26,253.08 L345.73,254.04 L346.22,254.99 L346.72,255.94 L347.24,256.88 L347.77,257.82 L348.33,258.75 L348.90,259.69 L349.51,260.64 L350.15,261.59 L350.81,262.54 L351.52,263.44 L352.28,264.28 L353.09,265.00 L353.96,265.58 L354.88,265.95 L355.84,266.02 L356.81,265.76 L357.77,265.28 L358.70,264.67 L359.59,263.99 L360.43,263.26 L361.24,262.49 L362.01,261.69 L362.74,260.86 L363.44,260.00 L364.10,259.13 L364.74,258.24 L365.34,257.34 L365.92,256.42 L366.47,255.49 L366.99,254.54 L367.50,253.59 L367.99,252.62 L368.46,251.64 L368.92,250.66 L369.36,249.67 L369.79,248.68 L370.21,247.68 L370.62,246.68 L371.02,245.68 L371.42,244.67 L371.80,243.66 L372.17,242.64 L372.54,241.62 L372.90,240.60 L373.25,239.57 L373.59,238.54 L373.92,237.51 L374.25,236.47 L374.57,235.43 L374.89,234.39 L375.19,233.35 L375.50,232.30 L375.79,231.25 L376.08,230.21 L376.37,229.15 L376.65,228.10 L376.93,227.05 L377.20,225.99 L377.47,224.93 L377.73,223.87 L378.00,222.81 L378.25,221.75 L378.51,220.69 L378.76,219.63 L379.01,218.57 L379.26,217.50 L379.51,216.44 L379.76,215.38 L380.00,214.31 L380.25,213.25 L380.49,212.19 L380.74,211.13 L380.98,210.06 L381.23,209.00 L381.47,207.94 L381.72,206.88 L381.96,205.83 L382.21,204.77 L382.46,203.71 L382.71,202.66 L382.96,201.60 L383.22,200.55 L383.47,199.50 L383.72,198.45 L383.98,197.40 L384.24,196.35 L384.49,195.30 L384.75,194.25 L385.01,193.20 L385.27,192.15 L385.53,191.11 L385.80,190.06 L386.06,189.01 L386.32,187.97 L386.59,186.93 L386.85,185.88 L387.12,184.84 L387.39,183.80 L387.65,182.75 L387.92,181.71 L388.19,180.67 L388.46,179.63 L388.73,178.59 L389.01,177.54 L389.28,176.50 L389.55,175.46 L389.83,174.42 L390.10,173.38 L390.38,172.34 L390.65,171.30 L390.93,170.26 L391.21,169.22 L391.49,168.18 L391.77,167.14 L392.05,166.10 L392.33,165.06 L392.61,164.02 L392.89,162.98 L393.17,161.94 L393.45,160.90 L393.74,159.86 L394.02,158.82 L394.31,157.78 L394.59,156.74 L394.88,155.70 L395.16,154.65 L395.45,153.61 L395.74,152.57 L396.02,151.52 L396.31,150.48 L396.60,149.43 L396.89,148.39 L397.18,147.34 L397.47,146.30 L397.76,145.25 L398.05,144.20 L398.34,143.16 L398.63,142.11 L398.92,141.06 L399.22,140.01 L399.51,138.96 L399.80,137.90 L400.10,136.85 L400.39,135.80 L400.68,134.74 L400.98,133.69 L401.27,132.63 L401.57,131.57 L401.86,130.52 L402.16,129.46 L402.45,128.40 L402.75,127.33 L403.05,126.27 L403.34,125.21 L403.64,124.14 L403.94,123.08 L404.23,122.01 L404.53,120.94 L404.83,119.87 L405.13,118.80 L405.42,117.73 L405.72,116.65 L406.02,115.58 L406.32,114.50 L406.61,113.42 L406.91,112.34 L407.21,111.26 L407.52,110.18 L407.82,109.11 L408.13,108.03 L408.44,106.95 L408.76,105.88 L409.08,104.81 L409.41,103.75 L409.75,102.68 L410.09,101.63 L410.44,100.57 L410.79,99.53 L411.16,98.49 L411.53,97.45 L411.92,96.42 L412.31,95.40 L412.72,94.39 L413.13,93.39 L413.56,92.39 L414.01,91.41 L414.46,90.43 L414.93,89.47 L415.42,88.52 L415.92,87.58 L416.43,86.65 L416.96,85.73 L417.51,84.83 L418.08,83.94 L418.66,83.07 L419.27,82.21 L419.89,81.37 L420.53,80.54 L421.20,79.73 L421.88,78.93 L422.59,78.15 L423.32,77.39 L424.07,76.65 L424.84,75.93 L425.63,75.23 L426.45,74.54 L427.28,73.88 L428.13,73.24 L429.00,72.61 L429.89,72.01 L430.79,71.42 L431.71,70.86 L432.65,70.32 L433.60,69.80 L434.56,69.30 L435.54,68.82 L436.53,68.36 L437.52,67.93 L438.53,67.52 L439.56,67.13 L440.58,66.77 L441.62,66.43 L442.67,66.11 L443.72,65.81 L444.78,65.55 L445.85,65.30 L446.92,65.08 L447.99,64.89 L449.07,64.72 L450.15,64.57 L451.23,64.45 L452.31,64.36 L453.40,64.29 L454.48,64.24 L455.57,64.21 L456.66,64.21 L457.75,64.22 L458.84,64.25 L459.94,64.30 L461.03,64.36 L462.12,64.44 L463.22,64.53 L464.31,64.63 L465.41,64.74 L466.51,64.86 L467.60,64.99 L468.70,65.12 L469.79,65.27 L470.89,65.41 L471.98,65.56 L473.08,65.71 L474.17,65.86 L475.27,66.02 L476.36,66.17 L477.45,66.32 L478.55,66.46 L479.64,66.60 L480.73,66.73 L481.82,66.86 L482.90,66.98 L483.99,67.10 L485.07,67.21 L486.16,67.32 L487.24,67.42 L488.33,67.52 L489.41,67.62 L490.49,67.71 L491.57,67.80 L492.65,67.89 L493.73,67.97 L494.81,68.05 L495.89,68.13 L496.97,68.21 L498.04,68.29 L499.12,68.37 L500.20,68.44 L501.27,68.52 L502.35,68.59 L503.43,68.67 L504.50,68.75 L505.58,68.82 L506.66,68.90 L507.73,68.98 L508.81,69.07 L509.89,69.15 L510.96,69.24 L512.04,69.33 L513.12,69.42 L514.19,69.52 L515.27,69.61 L516.35,69.71 L517.43,69.82 L518.50,69.92 L519.58,70.03 L520.66,70.14 L521.74,70.26 L522.81,70.37 L523.89,70.49 L524.97,70.62 L526.04,70.74 L527.12,70.87 L528.20,71.01 L529.27,71.14 L530.35,71.28 L531.43,71.42 L532.50,71.57 L533.58,71.72 L534.65,71.87 L535.73,72.02 L536.80,72.18 L537.87,72.34 L538.95,72.51 L540.02,72.68 L541.09,72.85 L542.16,73.03 L543.24,73.21 L544.31,73.39 L545.38,73.58 L546.45,73.77 L547.51,73.96 L548.58,74.16 L549.65,74.36 L550.72,74.57 L551.78,74.78 L552.85,74.99 L553.91,75.21 L554.97,75.43 L556.04,75.66 L557.10,75.89 L558.16,76.12 L559.22,76.36 L560.28,76.60 L561.34,76.85 L562.39,77.10 L563.45,77.36 L564.51,77.62 L565.56,77.88 L566.61,78.15 L567.66,78.42 L568.72,78.70 L569.76,78.98 L570.81,79.27 L571.86,79.56 L572.91,79.85 L573.95,80.14 L575.00,80.42 L576.05,80.70 L577.10,80.98 L578.15,81.24 L579.20,81.49 L580.25,81.73 L581.30,81.95 L582.36,82.15 L583.42,82.33 L584.49,82.49 L585.56,82.63 L586.63,82.73 L587.71,82.81 L588.79,82.86 L589.88,82.87 L590.97,82.85 L592.07,82.79 L593.17,82.69 L594.28,82.55 L595.40,82.36 L596.53,82.13 L597.66,81.85"/><path d="M111.71,106.20 L112.70,105.74 L113.68,105.29 L114.65,104.85 L115.61,104.42 L116.57,104.01 L117.53,103.59 L118.47,103.19 L119.41,102.78 L120.34,102.37 L121.27,101.96 L122.19,101.55 L123.10,101.13 L124.01,100.70 L124.91,100.25 L125.81,99.80 L126.70,99.32 L127.58,98.83 L128.46,98.32 L129.33,97.79 L130.20,97.23 L131.07,96.64 L131.93,96.03 L132.78,95.38 L133.63,94.71 L134.48,94.01 L135.32,93.29 L136.17,92.57 L137.02,91.85 L137.87,91.13 L138.72,90.42 L139.58,89.74 L140.45,89.07 L141.33,88.44 L142.22,87.85 L143.12,87.31 L144.04,86.82 L144.96,86.37 L145.90,85.97 L146.85,85.62 L147.81,85.31 L148.78,85.04 L149.76,84.80 L150.75,84.60 L151.75,84.44 L152.75,84.30 L153.76,84.20 L154.78,84.12 L155.81,84.07 L156.84,84.03 L157.88,84.02 L158.92,84.03 L159.97,84.05 L161.02,84.09 L162.08,84.13 L163.13,84.19 L164.19,84.25 L165.25,84.32 L166.31,84.39 L167.38,84.46 L168.44,84.53 L169.50,84.60 L170.56,84.65 L171.62,84.70 L172.68,84.74 L173.73,84.77 L174.78,84.78 L175.83,84.77 L176.87,84.75 L177.91,84.71 L178.95,84.65 L179.98,84.58 L181.01,84.49 L182.03,84.38 L183.06,84.26 L184.08,84.13 L185.09,83.98 L186.11,83.82 L187.12,83.64 L188.13,83.46 L189.13,83.26 L190.13,83.05 L191.14,82.83 L192.13,82.60 L193.13,82.36 L194.13,82.11 L195.12,81.85 L196.11,81.59 L197.10,81.31 L198.09,81.03 L199.08,80.74 L200.06,80.45 L201.05,80.15 L202.03,79.84 L203.01,79.53 L203.99,79.22 L204.97,78.90 L205.95,78.58 L206.93,78.26 L207.91,77.93 L208.89,77.60 L209.87,77.28 L210.85,76.95 L211.83,76.62 L212.81,76.29 L213.79,75.96 L214.77,75.63 L215.75,75.31 L216.74,74.98 L217.72,74.66 L218.70,74.35 L219.69,74.03 L220.67,73.73 L221.66,73.42 L222.65,73.12 L223.64,72.83 L224.63,72.55 L225.62,72.27 L226.62,71.99 L227.61,71.73 L228.61,71.47 L229.61,71.23 L230.62,70.99 L231.62,70.76 L232.63,70.55 L233.64,70.34 L234.66,70.15 L235.67,69.96 L236.69,69.79 L237.72,69.63 L238.74,69.49 L239.77,69.36 L240.80,69.24 L241.84,69.14 L242.88,69.06 L243.92,68.99 L244.97,68.93 L246.02,68.90 L247.07,68.87 L248.13,68.87 L249.18,68.88 L250.24,68.91 L251.29,68.96 L252.35,69.02 L253.40,69.10 L254.45,69.20 L255.50,69.31 L256.55,69.44 L257.60,69.59 L258.64,69.76 L259.67,69.95 L260.70,70.15 L261.73,70.37 L262.75,70.61 L263.76,70.87 L264.77,71.15 L265.77,71.45 L266.76,71.76 L267.74,72.10 L268.71,72.45 L269.67,72.82 L270.62,73.21 L271.56,73.62 L272.49,74.05 L273.41,74.51 L274.32,74.98 L275.21,75.47 L276.08,75.98 L276.95,76.51 L277.80,77.06 L278.63,77.63 L279.45,78.22 L280.25,78.84 L281.03,79.47 L281.80,80.13 L282.55,80.80 L283.29,81.49 L284.01,82.20 L284.72,82.93 L285.41,83.67 L286.10,84.43 L286.76,85.20 L287.42,85.99 L288.06,86.79 L288.69,87.61 L289.31,88.43 L289.92,89.27 L290.51,90.12 L291.10,90.98 L291.68,91.85 L292.25,92.73 L292.81,93.62 L293.36,94.51 L293.90,95.41 L294.43,96.32 L294.96,97.23 L295.48,98.15 L296.00,99.08 L296.51,100.00 L297.01,100.93 L297.51,101.86 L298.00,102.80 L298.49,103.73 L298.97,104.67 L299.45,105.60 L299.92,106.54 L300.40,107.48 L300.86,108.42 L301.32,109.36 L301.78,110.30 L302.23,111.25 L302.68,112.19 L303.13,113.14 L303.57,114.09 L304.01,115.04 L304.44,115.99 L304.87,116.94 L305.30,117.89 L305.72,118.84 L306.14,119.79 L306.55,120.75 L306.97,121.70 L307.37,122.66 L307.78,123.62 L308.18,124.58 L308.58,125.54 L308.97,126.50 L309.36,127.46 L309.75,128.42 L310.14,129.39 L310.52,130.35 L310.90,131.32 L311.27,132.28 L311.64,133.25 L312.01,134.22 L312.38,135.19 L312.75,136.16 L313.11,137.13 L313.47,138.10 L313.82,139.07 L314.17,140.04 L314.53,141.02 L314.87,141.99 L315.22,142.97 L315.56,143.94 L315.90,144.92 L316.24,145.90 L316.58,146.87 L316.91,147.85 L317.25,148.83 L317.58,149.81 L317.91,150.79 L318.23,151.77 L318.56,152.76 L318.88,153.74 L319.20,154.72 L319.52,155.71 L319.84,156.69 L320.15,157.68 L320.46,158.66 L320.78,159.65 L321.09,160.63 L321.40,161.62 L321.71,162.61 L322.01,163.60 L322.32,164.58 L322.62,165.57 L322.92,166.56 L323.23,167.55 L323.53,168.54 L323.83,169.53 L324.12,170.53 L324.42,171.52 L324.72,172.51 L325.01,173.50 L325.31,174.49 L325.60,175.49 L325.90,176.48 L326.19,177.48 L326.48,178.47 L326.77,179.46 L327.07,180.46 L327.36,181.45 L327.65,182.45 L327.94,183.44 L328.23,184.44 L328.52,185.44 L328.81,186.43 L329.10,187.43 L329.39,188.42 L329.67,189.42 L329.96,190.42 L330.25,191.41 L330.54,192.41 L330.83,193.41 L331.13,194.41 L331.42,195.40 L331.71,196.40 L332.01,197.39 L332.31,198.39 L332.61,199.38 L332.91,200.38 L333.22,201.37 L333.53,202.36 L333.84,203.35 L334.16,204.34 L334.48,205.33 L334.80,206.31 L335.13,207.30 L335.47,208.28 L335.81,209.26 L336.15,210.24 L336.50,211.22 L336.86,212.20 L337.22,213.17 L337.59,214.14 L337.96,215.11 L338.35,216.08 L338.74,217.04 L339.13,218.00 L339.54,218.96 L339.95,219.91 L340.37,220.87 L340.80,221.82 L341.24,222.76 L341.69,223.71 L342.15,224.65 L342.62,225.58 L343.09,226.51 L343.58,227.44 L344.08,228.37 L344.59,229.29 L345.11,230.21 L345.64,231.12 L346.19,232.03 L346.74,232.93 L347.31,233.82 L347.91,234.70 L348.52,235.55 L349.15,236.38 L349.82,237.18 L350.51,237.95 L351.23,238.69 L351.98,239.38 L352.78,240.02 L353.61,240.61 L354.47,241.10 L355.36,241.42 L356.26,241.50 L357.18,241.29 L358.09,240.80 L358.99,240.18 L359.87,239.53 L360.72,238.86 L361.55,238.17 L362.35,237.46 L363.12,236.72 L363.86,235.96 L364.57,235.18 L365.24,234.39 L365.88,233.57 L366.49,232.73 L367.06,231.88 L367.60,231.00 L368.10,230.11 L368.57,229.20 L369.01,228.27 L369.42,227.33 L369.80,226.38 L370.16,225.42 L370.50,224.44 L370.82,223.46 L371.12,222.46 L371.40,221.46 L371.68,220.46 L371.94,219.45 L372.20,218.43 L372.45,217.42 L372.69,216.40 L372.94,215.38 L373.18,214.37 L373.42,213.35 L373.66,212.33 L373.90,211.32 L374.14,210.30 L374.38,209.29 L374.62,208.27 L374.86,207.26 L375.10,206.24 L375.34,205.23 L375.58,204.22 L375.82,203.21 L376.07,202.19 L376.31,201.18 L376.55,200.17 L376.80,199.16 L377.04,198.15 L377.29,197.14 L377.54,196.14 L377.79,195.13 L378.04,194.12 L378.29,193.11 L378.55,192.11 L378.80,191.10 L379.06,190.10 L379.32,189.09 L379.59,188.09 L379.85,187.09 L380.12,186.09 L380.39,185.08 L380.67,184.08 L380.95,183.08 L381.23,182.08 L381.51,181.09 L381.80,180.09 L382.09,179.09 L382.38,178.09 L382.68,177.10 L382.98,176.10 L383.28,175.11 L383.58,174.11 L383.89,173.12 L384.20,172.13 L384.51,171.13 L384.82,170.14 L385.14,169.15 L385.46,168.16 L385.77,167.17 L386.09,166.18 L386.42,165.19 L386.74,164.20 L387.06,163.21 L387.39,162.22 L387.71,161.23 L388.04,160.24 L388.37,159.25 L388.69,158.26 L389.02,157.27 L389.35,156.28 L389.68,155.29 L390.00,154.30 L390.33,153.31 L390.66,152.33 L390.99,151.34 L391.31,150.35 L391.64,149.36 L391.96,148.37 L392.28,147.38 L392.61,146.39 L392.93,145.40 L393.25,144.41 L393.56,143.42 L393.88,142.43 L394.19,141.44 L394.51,140.44 L394.82,139.45 L395.12,138.46 L395.43,137.47 L395.73,136.47 L396.03,135.48 L396.33,134.48 L396.62,133.49 L396.92,132.49 L397.20,131.50 L397.49,130.50 L397.77,129.50 L398.05,128.50 L398.32,127.50 L398.59,126.50 L398.86,125.50 L399.12,124.50 L399.39,123.50 L399.64,122.50 L399.90,121.49 L400.16,120.49 L400.41,119.49 L400.67,118.48 L400.92,117.48 L401.18,116.48 L401.43,115.48 L401.69,114.48 L401.95,113.47 L402.21,112.47 L402.48,111.47 L402.75,110.48 L403.02,109.48 L403.30,108.48 L403.58,107.49 L403.87,106.49 L404.16,105.50 L404.46,104.51 L404.77,103.52 L405.08,102.53 L405.40,101.55 L405.73,100.56 L406.07,99.58 L406.42,98.60 L406.77,97.62 L407.14,96.65 L407.52,95.68 L407.90,94.71 L408.30,93.74 L408.71,92.78 L409.14,91.82 L409.57,90.86 L410.02,89.90 L410.49,88.95 L410.96,88.00 L411.46,87.06 L411.96,86.12 L412.48,85.19 L413.01,84.27 L413.55,83.35 L414.11,82.44 L414.68,81.54 L415.27,80.65 L415.87,79.77 L416.48,78.90 L417.10,78.05 L417.74,77.20 L418.39,76.37 L419.06,75.55 L419.73,74.74 L420.42,73.95 L421.13,73.18 L421.84,72.42 L422.57,71.68 L423.31,70.96 L424.07,70.26 L424.83,69.57 L425.61,68.91 L426.40,68.26 L427.21,67.64 L428.03,67.04 L428.86,66.46 L429.70,65.90 L430.55,65.37 L431.42,64.86 L432.30,64.38 L433.19,63.92 L434.09,63.50 L435.01,63.09 L435.93,62.72 L436.87,62.38 L437.82,62.06 L438.79,61.77 L439.76,61.51 L440.74,61.27 L441.74,61.06 L442.74,60.87 L443.75,60.71 L444.76,60.57 L445.79,60.44 L446.82,60.34 L447.86,60.26 L448.90,60.20 L449.95,60.16 L451.00,60.13 L452.06,60.12 L453.12,60.12 L454.19,60.14 L455.25,60.17 L456.32,60.21 L457.39,60.26 L458.46,60.33 L459.53,60.40 L460.60,60.49 L461.67,60.58 L462.74,60.68 L463.81,60.78 L464.87,60.89 L465.93,61.01 L466.99,61.13 L468.04,61.25 L469.10,61.38 L470.15,61.51 L471.19,61.64 L472.24,61.78 L473.28,61.92 L474.32,62.07 L475.36,62.21 L476.39,62.36 L477.43,62.52 L478.46,62.67 L479.49,62.83 L480.51,62.99 L481.54,63.15 L482.56,63.31 L483.59,63.48 L484.61,63.65 L485.63,63.82 L486.65,63.99 L487.66,64.16 L488.68,64.33 L489.69,64.50 L490.71,64.68 L491.72,64.85 L492.73,65.02 L493.74,65.20 L494.76,65.37 L495.77,65.55 L496.78,65.72 L497.78,65.90 L498.79,66.07 L499.80,66.24 L500.81,66.42 L501.82,66.59 L502.83,66.76 L503.84,66.92 L504.85,67.09 L505.85,67.26 L506.86,67.42 L507.87,67.58 L508.88,67.74 L509.90,67.90 L510.91,68.05 L511.92,68.21 L512.93,68.36 L513.95,68.50 L514.96,68.65 L515.98,68.79 L517.00,68.92 L518.02,69.06 L519.04,69.19 L520.06,69.31 L521.08,69.43 L522.11,69.55 L523.13,69.67 L524.16,69.78 L525.19,69.88 L526.22,69.98 L527.25,70.08 L528.29,70.18 L529.32,70.27 L530.36,70.36 L531.40,70.45 L532.43,70.54 L533.47,70.62 L534.51,70.71 L535.55,70.79 L536.59,70.87 L537.64,70.95 L538.68,71.03 L539.72,71.10 L540.77,71.18 L541.81,71.26 L542.85,71.34 L543.90,71.42 L544.94,71.50 L545.98,71.58 L547.03,71.66 L548.07,71.74 L549.11,71.83 L550.16,71.92 L551.20,72.01 L552.24,72.10 L553.28,72.20 L554.32,72.29 L555.36,72.40 L556.40,72.50 L557.44,72.61 L558.48,72.72 L559.52,72.84 L560.55,72.96 L561.58,73.08 L562.62,73.22 L563.65,73.35 L564.68,73.49 L565.71,73.64 L566.73,73.79 L567.76,73.95 L568.78,74.12 L569.80,74.29 L570.82,74.47 L571.84,74.65 L572.86,74.84 L573.87,75.03 L574.89,75.22 L575.90,75.41 L576.91,75.60 L577.93,75.78 L578.94,75.96 L579.96,76.13 L580.98,76.29 L581.99,76.44 L583.01,76.57 L584.03,76.69 L585.06,76.79 L586.09,76.88 L587.12,76.94 L588.15,76.99 L589.19,77.01 L590.23,77.00 L591.27,76.97 L592.32,76.91 L593.38,76.82 L594.44,76.69 L595.50,76.54 L596.58,76.35 L597.65,76.12"/><path d="M111.69,100.05 L112.61,99.58 L113.52,99.14 L114.42,98.71 L115.33,98.29 L116.23,97.88 L117.13,97.48 L118.02,97.09 L118.92,96.70 L119.80,96.31 L120.69,95.93 L121.57,95.54 L122.45,95.15 L123.32,94.76 L124.19,94.36 L125.05,93.95 L125.91,93.52 L126.76,93.09 L127.61,92.64 L128.45,92.17 L129.28,91.68 L130.12,91.17 L130.94,90.63 L131.76,90.07 L132.57,89.48 L133.38,88.87 L134.18,88.23 L134.98,87.58 L135.78,86.91 L136.57,86.24 L137.37,85.57 L138.17,84.91 L138.97,84.25 L139.78,83.62 L140.60,83.01 L141.42,82.43 L142.25,81.88 L143.09,81.37 L143.95,80.91 L144.82,80.50 L145.70,80.12 L146.58,79.79 L147.48,79.49 L148.39,79.23 L149.31,79.01 L150.24,78.81 L151.17,78.65 L152.12,78.52 L153.07,78.42 L154.03,78.34 L154.99,78.28 L155.96,78.25 L156.94,78.23 L157.92,78.24 L158.91,78.25 L159.90,78.29 L160.89,78.33 L161.89,78.39 L162.89,78.46 L163.89,78.53 L164.89,78.60 L165.90,78.68 L166.90,78.76 L167.91,78.84 L168.92,78.92 L169.92,78.99 L170.93,79.06 L171.93,79.12 L172.93,79.16 L173.93,79.20 L174.93,79.22 L175.92,79.23 L176.91,79.22 L177.90,79.19 L178.88,79.15 L179.86,79.10 L180.84,79.03 L181.81,78.95 L182.79,78.85 L183.75,78.75 L184.72,78.62 L185.68,78.49 L186.65,78.35 L187.60,78.19 L188.56,78.02 L189.52,77.85 L190.47,77.66 L191.42,77.46 L192.37,77.26 L193.31,77.04 L194.26,76.82 L195.20,76.59 L196.14,76.35 L197.08,76.10 L198.02,75.85 L198.96,75.59 L199.90,75.33 L200.83,75.06 L201.77,74.78 L202.70,74.50 L203.63,74.22 L204.57,73.93 L205.50,73.64 L206.43,73.34 L207.36,73.04 L208.29,72.74 L209.22,72.44 L210.15,72.14 L211.08,71.84 L212.01,71.53 L212.94,71.23 L213.87,70.93 L214.80,70.62 L215.73,70.32 L216.67,70.02 L217.60,69.72 L218.53,69.43 L219.47,69.13 L220.40,68.84 L221.34,68.56 L222.27,68.27 L223.21,68.00 L224.15,67.72 L225.09,67.45 L226.03,67.19 L226.98,66.94 L227.92,66.69 L228.87,66.44 L229.82,66.21 L230.77,65.98 L231.72,65.76 L232.68,65.55 L233.64,65.35 L234.60,65.16 L235.56,64.97 L236.52,64.80 L237.49,64.64 L238.46,64.49 L239.43,64.35 L240.41,64.22 L241.38,64.11 L242.37,64.00 L243.35,63.91 L244.34,63.84 L245.33,63.78 L246.32,63.73 L247.31,63.69 L248.31,63.67 L249.30,63.67 L250.30,63.67 L251.30,63.70 L252.29,63.73 L253.29,63.79 L254.28,63.85 L255.28,63.93 L256.27,64.03 L257.25,64.14 L258.24,64.27 L259.22,64.42 L260.20,64.58 L261.17,64.75 L262.14,64.94 L263.10,65.15 L264.06,65.38 L265.01,65.62 L265.95,65.87 L266.89,66.15 L267.82,66.44 L268.74,66.75 L269.66,67.08 L270.56,67.42 L271.46,67.78 L272.34,68.16 L273.22,68.56 L274.09,68.97 L274.94,69.40 L275.78,69.86 L276.62,70.33 L277.43,70.81 L278.24,71.32 L279.03,71.85 L279.81,72.39 L280.58,72.96 L281.33,73.54 L282.07,74.14 L282.80,74.76 L283.51,75.40 L284.21,76.05 L284.90,76.72 L285.57,77.40 L286.24,78.10 L286.89,78.81 L287.53,79.54 L288.17,80.27 L288.79,81.03 L289.40,81.79 L290.00,82.56 L290.59,83.34 L291.18,84.14 L291.75,84.94 L292.32,85.75 L292.88,86.57 L293.43,87.40 L293.98,88.23 L294.51,89.07 L295.04,89.92 L295.57,90.77 L296.09,91.63 L296.60,92.49 L297.10,93.35 L297.61,94.22 L298.10,95.09 L298.60,95.96 L299.08,96.83 L299.57,97.70 L300.05,98.57 L300.52,99.45 L301.00,100.32 L301.46,101.20 L301.93,102.08 L302.39,102.96 L302.85,103.84 L303.30,104.72 L303.75,105.60 L304.20,106.49 L304.64,107.37 L305.08,108.26 L305.51,109.14 L305.95,110.03 L306.37,110.92 L306.80,111.81 L307.22,112.69 L307.64,113.59 L308.06,114.48 L308.47,115.37 L308.88,116.26 L309.29,117.16 L309.70,118.05 L310.10,118.95 L310.50,119.84 L310.90,120.74 L311.29,121.64 L311.68,122.54 L312.07,123.43 L312.46,124.33 L312.84,125.24 L313.22,126.14 L313.60,127.04 L313.98,127.94 L314.36,128.84 L314.73,129.75 L315.10,130.65 L315.47,131.56 L315.84,132.46 L316.20,133.37 L316.57,134.28 L316.93,135.18 L317.29,136.09 L317.65,137.00 L318.01,137.91 L318.36,138.82 L318.72,139.73 L319.07,140.64 L319.42,141.55 L319.77,142.46 L320.12,143.37 L320.47,144.28 L320.81,145.19 L321.16,146.10 L321.50,147.02 L321.85,147.93 L322.19,148.84 L322.53,149.76 L322.87,150.67 L323.21,151.58 L323.55,152.50 L323.89,153.41 L324.23,154.33 L324.57,155.24 L324.90,156.16 L325.24,157.07 L325.58,157.99 L325.91,158.90 L326.25,159.82 L326.58,160.74 L326.92,161.65 L327.26,162.57 L327.59,163.49 L327.93,164.40 L328.26,165.32 L328.60,166.23 L328.93,167.15 L329.27,168.07 L329.61,168.98 L329.94,169.90 L330.28,170.82 L330.62,171.73 L330.96,172.65 L331.30,173.56 L331.64,174.48 L331.98,175.40 L332.32,176.31 L332.66,177.23 L333.00,178.14 L333.35,179.06 L333.69,179.97 L334.04,180.89 L334.39,181.80 L334.73,182.72 L335.08,183.63 L335.44,184.55 L335.79,185.46 L336.14,186.37 L336.50,187.29 L336.85,188.20 L337.21,189.11 L337.57,190.02 L337.93,190.94 L338.30,191.85 L338.66,192.76 L339.04,193.67 L339.41,194.57 L339.80,195.48 L340.19,196.38 L340.59,197.28 L341.00,198.17 L341.42,199.07 L341.85,199.96 L342.29,200.84 L342.75,201.72 L343.22,202.59 L343.71,203.46 L344.21,204.33 L344.72,205.19 L345.26,206.04 L345.82,206.88 L346.39,207.71 L346.99,208.52 L347.61,209.31 L348.25,210.07 L348.93,210.79 L349.62,211.47 L350.35,212.10 L351.11,212.68 L351.90,213.20 L352.73,213.65 L353.59,214.01 L354.47,214.23 L355.36,214.25 L356.26,214.07 L357.15,213.71 L358.03,213.23 L358.89,212.67 L359.72,212.07 L360.54,211.46 L361.32,210.83 L362.08,210.18 L362.82,209.51 L363.52,208.82 L364.20,208.11 L364.84,207.37 L365.45,206.62 L366.02,205.85 L366.57,205.05 L367.07,204.23 L367.55,203.40 L367.99,202.54 L368.41,201.67 L368.80,200.78 L369.17,199.88 L369.52,198.97 L369.86,198.05 L370.18,197.12 L370.49,196.18 L370.79,195.24 L371.09,194.29 L371.39,193.35 L371.68,192.40 L371.98,191.46 L372.28,190.51 L372.58,189.57 L372.89,188.63 L373.20,187.69 L373.51,186.76 L373.83,185.82 L374.14,184.89 L374.46,183.95 L374.78,183.02 L375.10,182.09 L375.43,181.16 L375.75,180.23 L376.08,179.31 L376.40,178.38 L376.73,177.45 L377.06,176.53 L377.39,175.60 L377.72,174.68 L378.04,173.76 L378.37,172.83 L378.70,171.91 L379.03,170.99 L379.36,170.06 L379.69,169.14 L380.02,168.22 L380.34,167.29 L380.67,166.37 L380.99,165.45 L381.31,164.52 L381.63,163.60 L381.95,162.67 L382.27,161.75 L382.59,160.82 L382.90,159.89 L383.21,158.97 L383.52,158.04 L383.83,157.11 L384.13,156.18 L384.43,155.25 L384.73,154.31 L385.02,153.38 L385.31,152.44 L385.60,151.51 L385.88,150.57 L386.17,149.63 L386.45,148.69 L386.73,147.75 L387.00,146.81 L387.28,145.87 L387.55,144.93 L387.82,143.99 L388.09,143.04 L388.36,142.10 L388.63,141.15 L388.90,140.21 L389.16,139.26 L389.43,138.32 L389.69,137.37 L389.95,136.42 L390.22,135.48 L390.48,134.53 L390.75,133.59 L391.01,132.64 L391.27,131.69 L391.54,130.75 L391.80,129.80 L392.07,128.85 L392.33,127.91 L392.60,126.96 L392.87,126.02 L393.14,125.07 L393.41,124.13 L393.69,123.18 L393.96,122.24 L394.24,121.30 L394.52,120.35 L394.80,119.41 L395.08,118.47 L395.37,117.53 L395.66,116.59 L395.95,115.65 L396.24,114.72 L396.54,113.78 L396.84,112.84 L397.14,111.91 L397.45,110.98 L397.76,110.05 L398.08,109.12 L398.40,108.19 L398.72,107.26 L399.05,106.33 L399.38,105.41 L399.71,104.49 L400.05,103.56 L400.40,102.64 L400.75,101.73 L401.11,100.81 L401.47,99.90 L401.83,98.98 L402.21,98.07 L402.58,97.16 L402.97,96.26 L403.36,95.35 L403.75,94.45 L404.15,93.55 L404.56,92.65 L404.98,91.75 L405.40,90.86 L405.83,89.97 L406.26,89.08 L406.70,88.19 L407.15,87.31 L407.61,86.43 L408.07,85.55 L408.55,84.67 L409.03,83.80 L409.52,82.93 L410.01,82.07 L410.52,81.21 L411.03,80.35 L411.55,79.50 L412.08,78.66 L412.62,77.83 L413.17,77.00 L413.73,76.18 L414.30,75.37 L414.88,74.58 L415.46,73.79 L416.06,73.01 L416.67,72.25 L417.29,71.50 L417.92,70.76 L418.56,70.03 L419.20,69.32 L419.87,68.63 L420.54,67.95 L421.22,67.29 L421.92,66.65 L422.62,66.02 L423.34,65.41 L424.07,64.82 L424.81,64.25 L425.57,63.71 L426.33,63.18 L427.11,62.67 L427.91,62.19 L428.71,61.73 L429.53,61.30 L430.36,60.88 L431.21,60.50 L432.06,60.14 L432.94,59.80 L433.82,59.49 L434.72,59.20 L435.62,58.94 L436.54,58.70 L437.47,58.48 L438.41,58.28 L439.36,58.10 L440.31,57.94 L441.28,57.80 L442.25,57.68 L443.23,57.58 L444.22,57.50 L445.21,57.43 L446.21,57.38 L447.22,57.35 L448.23,57.33 L449.24,57.32 L450.26,57.33 L451.28,57.35 L452.30,57.38 L453.33,57.43 L454.36,57.49 L455.38,57.56 L456.41,57.64 L457.44,57.72 L458.47,57.82 L459.50,57.93 L460.53,58.04 L461.55,58.16 L462.58,58.29 L463.60,58.42 L464.61,58.56 L465.62,58.70 L466.63,58.85 L467.64,59.00 L468.64,59.15 L469.63,59.31 L470.63,59.47 L471.62,59.64 L472.60,59.80 L473.59,59.98 L474.57,60.15 L475.54,60.33 L476.52,60.51 L477.49,60.69 L478.46,60.87 L479.42,61.06 L480.39,61.25 L481.35,61.44 L482.30,61.63 L483.26,61.82 L484.21,62.01 L485.17,62.21 L486.12,62.40 L487.07,62.60 L488.01,62.80 L488.96,63.00 L489.90,63.19 L490.85,63.39 L491.79,63.59 L492.73,63.79 L493.67,63.98 L494.61,64.18 L495.54,64.37 L496.48,64.57 L497.42,64.76 L498.36,64.95 L499.29,65.14 L500.23,65.33 L501.16,65.52 L502.10,65.70 L503.04,65.89 L503.97,66.07 L504.91,66.24 L505.85,66.42 L506.79,66.59 L507.73,66.76 L508.67,66.93 L509.61,67.09 L510.55,67.25 L511.49,67.41 L512.43,67.56 L513.38,67.71 L514.33,67.85 L515.28,67.99 L516.23,68.12 L517.18,68.25 L518.13,68.38 L519.09,68.50 L520.05,68.62 L521.01,68.72 L521.97,68.83 L522.94,68.93 L523.91,69.02 L524.88,69.11 L525.85,69.19 L526.82,69.27 L527.80,69.34 L528.78,69.41 L529.76,69.48 L530.74,69.54 L531.73,69.60 L532.71,69.65 L533.70,69.70 L534.69,69.75 L535.68,69.79 L536.67,69.83 L537.66,69.87 L538.65,69.91 L539.64,69.94 L540.64,69.98 L541.63,70.01 L542.63,70.04 L543.62,70.07 L544.62,70.09 L545.62,70.12 L546.61,70.15 L547.61,70.17 L548.61,70.20 L549.60,70.22 L550.60,70.25 L551.60,70.28 L552.59,70.31 L553.59,70.33 L554.58,70.36 L555.58,70.39 L556.57,70.43 L557.56,70.46 L558.55,70.50 L559.54,70.54 L560.53,70.58 L561.52,70.62 L562.51,70.67 L563.49,70.72 L564.48,70.77 L565.46,70.83 L566.44,70.89 L567.42,70.95 L568.39,71.02 L569.37,71.09 L570.34,71.17 L571.31,71.25 L572.28,71.34 L573.24,71.42 L574.21,71.51 L575.17,71.60 L576.13,71.69 L577.10,71.77 L578.06,71.86 L579.02,71.93 L579.98,72.01 L580.95,72.07 L581.91,72.13 L582.87,72.18 L583.84,72.22 L584.81,72.25 L585.78,72.27 L586.75,72.27 L587.73,72.26 L588.70,72.24 L589.68,72.20 L590.67,72.14 L591.65,72.06 L592.64,71.96 L593.64,71.85 L594.64,71.71 L595.64,71.54 L596.65,71.36 L597.67,71.15"/>
</g>
<g stroke="#000" stroke-width="1.75"><path transform="translate(0,-0.4)" d="M112.05,110.40 L116.91,109.60 L121.76,107.80 L126.62,109.50 L131.47,109.40 L136.33,104.60 L141.18,96.90 L146.04,96.40 L150.89,99.10 L155.75,100.60 L160.60,102.30 L165.46,102.30 L170.32,96.60 L175.17,90.60 L180.03,82.60 L184.88,75.60 L189.74,72.60 L194.59,72.80 L199.45,74.40 L204.30,75.30 L209.16,74.20 L214.02,72.70 L218.87,72.80 L223.73,73.50 L228.58,67.80 L233.44,64.40 L238.29,65.00 L243.15,67.00 L248.00,68.60 L252.86,78.20 L257.71,88.50 L262.57,95.80 L267.43,102.40 L272.28,108.50 L277.14,114.20 L281.99,116.20 L286.85,112.10 L291.70,106.50 L296.56,101.00 L301.41,100.50 L306.27,107.40 L311.13,123.50 L315.98,149.30 L320.84,168.90 L325.69,187.40 L330.55,205.60 L335.40,222.20 L340.26,234.40 L345.11,248.60 L349.97,256.10 L354.82,260.00 L359.68,259.10 L364.54,250.90 L369.39,236.30 L374.25,216.40 L379.10,197.50 L383.96,174.80 L388.81,157.10 L393.67,146.60 L398.52,136.10 L403.38,127.20 L408.24,113.80 L413.09,98.60 L417.95,83.60 L422.80,68.00 L427.66,54.00 L432.51,46.00 L437.37,44.60 L442.22,48.10 L447.08,58.00 L451.94,70.60 L456.79,84.20 L461.65,94.60 L466.50,100.40 L471.36,101.00 L476.21,100.00 L481.07,98.10 L485.92,95.60 L490.78,93.70 L495.63,91.80 L500.49,84.60 L505.35,76.80 L510.20,69.50 L515.06,64.90 L519.91,63.90 L524.77,68.40 L529.62,79.30 L534.48,91.70 L539.33,102.10 L544.19,110.50 L549.04,114.60 L553.90,112.60 L558.76,111.30 L563.61,109.40 L568.47,108.70 L573.32,107.60 L578.18,108.80 L583.03,106.30 L587.89,108.10 L592.74,110.70 L597.60,113.10"/><path transform="translate(0,0.4)" d="M112.05,110.40 L116.91,109.60 L121.76,107.80 L126.62,109.50 L131.47,109.40 L136.33,104.60 L141.18,96.90 L146.04,96.40 L150.89,99.10 L155.75,100.60 L160.60,102.30 L165.46,102.30 L170.32,96.60 L175.17,90.60 L180.03,82.60 L184.88,75.60 L189.74,72.60 L194.59,72.80 L199.45,74.40 L204.30,75.30 L209.16,74.20 L214.02,72.70 L218.87,72.80 L223.73,73.50 L228.58,67.80 L233.44,64.40 L238.29,65.00 L243.15,67.00 L248.00,68.60 L252.86,78.20 L257.71,88.50 L262.57,95.80 L267.43,102.40 L272.28,108.50 L277.14,114.20 L281.99,116.20 L286.85,112.10 L291.70,106.50 L296.56,101.00 L301.41,100.50 L306.27,107.40 L311.13,123.50 L315.98,149.30 L320.84,168.90 L325.69,187.40 L330.55,205.60 L335.40,222.20 L340.26,234.40 L345.11,248.60 L349.97,256.10 L354.82,260.00 L359.68,259.10 L364.54,250.90 L369.39,236.30 L374.25,216.40 L379.10,197.50 L383.96,174.80 L388.81,157.10 L393.67,146.60 L398.52,136.10 L403.38,127.20 L408.24,113.80 L413.09,98.60 L417.95,83.60 L422.80,68.00 L427.66,54.00 L432.51,46.00 L437.37,44.60 L442.22,48.10 L447.08,58.00 L451.94,70.60 L456.79,84.20 L461.65,94.60 L466.50,100.40 L471.36,101.00 L476.21,100.00 L481.07,98.10 L485.92,95.60 L490.78,93.70 L495.63,91.80 L500.49,84.60 L505.35,76.80 L510.20,69.50 L515.06,64.90 L519.91,63.90 L524.77,68.40 L529.62,79.30 L534.48,91.70 L539.33,102.10 L544.19,110.50 L549.04,114.60 L553.90,112.60 L558.76,111.30 L563.61,109.40 L568.47,108.70 L573.32,107.60 L578.18,108.80 L583.03,106.30 L587.89,108.10 L592.74,110.70 L597.60,113.10"/></g>
</g>
<path d="M112.05,48.47H597.60" stroke="#1c1c1c" stroke-width="1.2" fill="none"/>
<path d="M112.05,317.18h9 M597.60,317.18h-9 M112.05,307.92h9 M597.60,307.92h-9 M112.05,298.65h9 M597.60,298.65h-9 M112.05,289.39h9 M597.60,289.39h-9 M112.05,280.12h14 M597.60,280.12h-14 M112.05,270.85h9 M597.60,270.85h-9 M112.05,261.59h9 M597.60,261.59h-9 M112.05,252.32h9 M597.60,252.32h-9 M112.05,243.06h9 M597.60,243.06h-9 M112.05,233.79h14 M597.60,233.79h-14 M112.05,224.52h9 M597.60,224.52h-9 M112.05,215.26h9 M597.60,215.26h-9 M112.05,205.99h9 M597.60,205.99h-9 M112.05,196.73h9 M597.60,196.73h-9 M112.05,187.46h14 M597.60,187.46h-14 M112.05,178.19h9 M597.60,178.19h-9 M112.05,168.93h9 M597.60,168.93h-9 M112.05,159.66h9 M597.60,159.66h-9 M112.05,150.40h9 M597.60,150.40h-9 M112.05,141.13h14 M597.60,141.13h-14 M112.05,131.86h9 M597.60,131.86h-9 M112.05,122.60h9 M597.60,122.60h-9 M112.05,113.33h9 M597.60,113.33h-9 M112.05,104.07h9 M597.60,104.07h-9 M112.05,94.80h14 M597.60,94.80h-14 M112.05,85.53h9 M597.60,85.53h-9 M112.05,76.27h9 M597.60,76.27h-9 M112.05,67.00h9 M597.60,67.00h-9 M112.05,57.74h9 M597.60,57.74h-9 M112.05,48.47h14 M597.60,48.47h-14 M112.05,39.20h9 M597.60,39.20h-9 M112.05,29.94h9 M597.60,29.94h-9 M112.05,20.67h9 M597.60,20.67h-9 M112.05,11.41h9 M597.60,11.41h-9 M160.60,326.40v-8 M160.60,2.45v8 M209.16,326.40v-8 M209.16,2.45v8 M257.72,326.40v-8 M257.72,2.45v8 M306.27,326.40v-8 M306.27,2.45v8 M354.82,326.40v-14 M354.82,2.45v14 M403.38,326.40v-8 M403.38,2.45v8 M451.94,326.40v-8 M451.94,2.45v8 M500.49,326.40v-8 M500.49,2.45v8 M549.04,326.40v-8 M549.04,2.45v8" stroke="#151515" stroke-width="1.25" fill="none"/>
<rect x="112.05" y="2.45" width="485.55" height="323.95" fill="none" stroke="#151515" stroke-width="1.45"/>
<g fill="none" stroke="#111" stroke-width="1.15" stroke-linecap="round" stroke-linejoin="round">
<path transform="translate(51.50,57.47)" d="M-2.6,-13.9 C-1.3,-14.6 0.6,-15.6 2.2,-17.0 V-0.6"/>
<g transform="translate(64.50,57.47)"><circle cx="0" cy="-1.1" r="1.1" fill="#000" stroke="none"/></g>
<path transform="translate(76.20,57.47)" d="M-5.50,-9.00 A5.50,8.40 0 1 0 5.50,-9.00 A5.50,8.40 0 1 0 -5.50,-9.00Z"/>
<path transform="translate(92.40,57.47)" d="M-5.50,-9.00 A5.50,8.40 0 1 0 5.50,-9.00 A5.50,8.40 0 1 0 -5.50,-9.00Z"/>
<path transform="translate(52.30,103.80)" d="M-5.50,-9.00 A5.50,8.40 0 1 0 5.50,-9.00 A5.50,8.40 0 1 0 -5.50,-9.00Z"/>
<g transform="translate(64.50,103.80)"><circle cx="0" cy="-1.1" r="1.1" fill="#000" stroke="none"/></g>
<path transform="translate(76.20,103.80)" d="M-5.10,-12.30 A5.10,4.90 0 1 0 5.10,-12.30 A5.10,4.90 0 1 0 -5.10,-12.30Z M5.1,-12.3 V-5 C5.1,-2.1 3,-0.6 0.4,-0.6 C-2,-0.6 -3.7,-1.8 -4.6,-3.4"/>
<path transform="translate(92.40,103.80)" d="M-5.50,-9.00 A5.50,8.40 0 1 0 5.50,-9.00 A5.50,8.40 0 1 0 -5.50,-9.00Z"/>
<path transform="translate(52.30,150.13)" d="M-5.50,-9.00 A5.50,8.40 0 1 0 5.50,-9.00 A5.50,8.40 0 1 0 -5.50,-9.00Z"/>
<g transform="translate(64.50,150.13)"><circle cx="0" cy="-1.1" r="1.1" fill="#000" stroke="none"/></g>
<path transform="translate(76.20,150.13)" d="M-4.50,-13.90 A4.60,3.50 0 1 0 4.70,-13.90 A4.60,3.50 0 1 0 -4.50,-13.90Z M-5.50,-5.10 A5.50,4.50 0 1 0 5.50,-5.10 A5.50,4.50 0 1 0 -5.50,-5.10Z"/>
<path transform="translate(92.40,150.13)" d="M-5.50,-9.00 A5.50,8.40 0 1 0 5.50,-9.00 A5.50,8.40 0 1 0 -5.50,-9.00Z"/>
<path transform="translate(52.30,196.46)" d="M-5.50,-9.00 A5.50,8.40 0 1 0 5.50,-9.00 A5.50,8.40 0 1 0 -5.50,-9.00Z"/>
<g transform="translate(64.50,196.46)"><circle cx="0" cy="-1.1" r="1.1" fill="#000" stroke="none"/></g>
<path transform="translate(76.20,196.46)" d="M-6,-17.3 H6 L-2.9,-0.6"/>
<path transform="translate(92.40,196.46)" d="M-5.50,-9.00 A5.50,8.40 0 1 0 5.50,-9.00 A5.50,8.40 0 1 0 -5.50,-9.00Z"/>
<path transform="translate(52.30,242.79)" d="M-5.50,-9.00 A5.50,8.40 0 1 0 5.50,-9.00 A5.50,8.40 0 1 0 -5.50,-9.00Z"/>
<g transform="translate(64.50,242.79)"><circle cx="0" cy="-1.1" r="1.1" fill="#000" stroke="none"/></g>
<path transform="translate(76.20,242.79)" d="M4.7,-15.0 C3.8,-16.5 2.2,-17.3 0.2,-17.3 C-3.3,-17.3 -4.9,-13.8 -4.9,-9 V-5.6 M-4.90,-5.60 A4.90,5.00 0 1 0 4.90,-5.60 A4.90,5.00 0 1 0 -4.90,-5.60Z"/>
<path transform="translate(92.40,242.79)" d="M-5.50,-9.00 A5.50,8.40 0 1 0 5.50,-9.00 A5.50,8.40 0 1 0 -5.50,-9.00Z"/>
<path transform="translate(52.30,289.12)" d="M-5.50,-9.00 A5.50,8.40 0 1 0 5.50,-9.00 A5.50,8.40 0 1 0 -5.50,-9.00Z"/>
<g transform="translate(64.50,289.12)"><circle cx="0" cy="-1.1" r="1.1" fill="#000" stroke="none"/></g>
<path transform="translate(76.20,289.12)" d="M4.4,-17.3 H-3.8 L-4.6,-10.2 C-3.3,-11.1 -1.6,-11.5 0,-11.5 C3.2,-11.5 5.3,-9 5.3,-6 C5.3,-2.7 3,-0.6 0,-0.6 C-2.4,-0.6 -4.3,-1.8 -5.4,-3.7"/>
<path transform="translate(92.40,289.12)" d="M-5.50,-9.00 A5.50,8.40 0 1 0 5.50,-9.00 A5.50,8.40 0 1 0 -5.50,-9.00Z"/>
<path transform="translate(129.15,360.30)" d="M-7.75,-8.2 H7.75"/>
<path transform="translate(147.10,360.30)" d="M-5.50,-9.00 A5.50,8.40 0 1 0 5.50,-9.00 A5.50,8.40 0 1 0 -5.50,-9.00Z"/>
<g transform="translate(159.30,360.30)"><circle cx="0" cy="-1.1" r="1.1" fill="#000" stroke="none"/></g>
<path transform="translate(171.60,360.30)" d="M1.7,-0.4 V-17.2 L-6,-6.1 H6"/>
<path transform="translate(248.05,360.30)" d="M-7.75,-8.2 H7.75"/>
<path transform="translate(266.15,360.30)" d="M-5.50,-9.00 A5.50,8.40 0 1 0 5.50,-9.00 A5.50,8.40 0 1 0 -5.50,-9.00Z"/>
<g transform="translate(278.20,360.30)"><circle cx="0" cy="-1.1" r="1.1" fill="#000" stroke="none"/></g>
<path transform="translate(290.15,360.30)" d="M-5,-13 C-4.5,-15.8 -2.5,-17.4 0,-17.4 C2.8,-17.4 4.9,-15.5 4.9,-13.2 C4.9,-11.5 4,-10 2.7,-8.6 L-5.6,-0.6 H5.7"/>
<path transform="translate(342.60,360.30)" d="M-5.50,-9.00 A5.50,8.40 0 1 0 5.50,-9.00 A5.50,8.40 0 1 0 -5.50,-9.00Z"/>
<g transform="translate(354.70,360.30)"><circle cx="0" cy="-1.1" r="1.1" fill="#000" stroke="none"/></g>
<path transform="translate(366.50,360.30)" d="M-5.50,-9.00 A5.50,8.40 0 1 0 5.50,-9.00 A5.50,8.40 0 1 0 -5.50,-9.00Z"/>
<path transform="translate(440.20,360.30)" d="M-5.50,-9.00 A5.50,8.40 0 1 0 5.50,-9.00 A5.50,8.40 0 1 0 -5.50,-9.00Z"/>
<g transform="translate(451.80,360.30)"><circle cx="0" cy="-1.1" r="1.1" fill="#000" stroke="none"/></g>
<path transform="translate(464.00,360.30)" d="M-5,-13 C-4.5,-15.8 -2.5,-17.4 0,-17.4 C2.8,-17.4 4.9,-15.5 4.9,-13.2 C4.9,-11.5 4,-10 2.7,-8.6 L-5.6,-0.6 H5.7"/>
<path transform="translate(537.25,360.30)" d="M-5.50,-9.00 A5.50,8.40 0 1 0 5.50,-9.00 A5.50,8.40 0 1 0 -5.50,-9.00Z"/>
<g transform="translate(549.10,360.30)"><circle cx="0" cy="-1.1" r="1.1" fill="#000" stroke="none"/></g>
<path transform="translate(561.20,360.30)" d="M1.7,-0.4 V-17.2 L-6,-6.1 H6"/>
<path transform="translate(256.40,400.30)" d="M-9.7,-20.35 L-4.9,-0.65 L0,-20.0 L4.9,-0.65 L9.7,-20.35"/>
<path transform="translate(276.25,400.30)" d="M-5.60,-7.05 A5.60,6.40 0 1 0 5.60,-7.05 A5.60,6.40 0 1 0 -5.60,-7.05Z M5.6,-13.45 V-0.65"/>
<path transform="translate(292.70,400.30)" d="M-6.1,-13.45 L0,-0.65 L6.1,-13.45"/>
<path transform="translate(309.10,400.30)" d="M-5.75,-7.3 H5.75 C5.75,-10.8 3.2,-13.45 0,-13.45 C-3.2,-13.45 -5.75,-10.6 -5.75,-7.05 C-5.75,-3.5 -3.2,-0.65 0,-0.65 C2.2,-0.65 4.1,-1.8 5.2,-3.4"/>
<path transform="translate(321.90,400.30)" d="M0,-20.5 V-0.65"/>
<path transform="translate(334.10,400.30)" d="M-5.75,-7.3 H5.75 C5.75,-10.8 3.2,-13.45 0,-13.45 C-3.2,-13.45 -5.75,-10.6 -5.75,-7.05 C-5.75,-3.5 -3.2,-0.65 0,-0.65 C2.2,-0.65 4.1,-1.8 5.2,-3.4"/>
<path transform="translate(352.10,400.30)" d="M-5.2,-13.45 V-0.65 M-5.2,-9.6 C-4,-12.3 -2.2,-13.45 0,-13.45 C3.2,-13.45 5.2,-11.5 5.2,-8.5 V-0.65"/>
<path transform="translate(370.00,400.30)" d="M-5.80,-7.05 A5.60,6.40 0 1 0 5.40,-7.05 A5.60,6.40 0 1 0 -5.80,-7.05Z M5.9,-13.45 V2.6 C5.9,5.3 3.8,6.1 1.0,6.1 C-1.3,6.1 -2.9,5.6 -3.9,4.6"/>
<path transform="translate(385.35,400.30)" d="M-1.05,-20.3 V-2.6 C-1.05,-1.2 0.2,-0.65 1.6,-0.65 C2.3,-0.65 2.9,-0.8 3.4,-1.0 M-3.3,-13.45 H2.8"/>
<path transform="translate(399.90,400.30)" d="M-5.1,-20.5 V-0.65 M-5.1,-9.6 C-3.9,-12.3 -2.1,-13.45 0.1,-13.45 C3.3,-13.45 5.2,-11.5 5.2,-8.5 V-0.65"/>
<path d="M432.2,375.4 V406.6 M466.7,375.4 V406.6" stroke-width="2.0" stroke-linecap="butt"/>
<path d="M438.5,376.0 H432.2 M438.5,406.1 H432.2 M460.7,376.0 H466.7 M460.7,406.1 H466.7" stroke-width="1.5"/>
<path transform="translate(449.70,400.30)" d="M-7.9,-0.65 L0,-20.8 L7.9,-0.65 M-5.0,-7.3 H5.0"/>
<circle cx="449.7" cy="376.1" r="3.0"/>
<path transform="translate(21.6,252.55) rotate(-90) scale(0.965)" d="M-6.65,-0.65 V-19.9 H1.9 C4.5,-19.9 6.65,-17.8 6.65,-15.2 C6.65,-12.6 4.5,-10.5 1.9,-10.5 H-6.65 M0.2,-10.5 L6.35,-0.65"/>
<path transform="translate(21.6,234.55) rotate(-90) scale(0.965)" d="M-5.75,-7.3 H5.75 C5.75,-10.8 3.2,-13.45 0,-13.45 C-3.2,-13.45 -5.75,-10.6 -5.75,-7.05 C-5.75,-3.5 -3.2,-0.65 0,-0.65 C2.2,-0.65 4.1,-1.8 5.2,-3.4"/>
<path transform="translate(21.6,222.10) rotate(-90) scale(0.965)" d="M0,-20.5 V-0.65"/>
<path transform="translate(21.6,209.45) rotate(-90) scale(0.965)" d="M-5.60,-7.05 A5.60,6.40 0 1 0 5.60,-7.05 A5.60,6.40 0 1 0 -5.60,-7.05Z M5.6,-13.45 V-0.65"/>
<path transform="translate(21.6,195.20) rotate(-90) scale(0.965)" d="M-1.05,-20.3 V-2.6 C-1.05,-1.2 0.2,-0.65 1.6,-0.65 C2.3,-0.65 2.9,-0.8 3.4,-1.0 M-3.3,-13.45 H2.8"/>
<path transform="translate(21.6,185.20) rotate(-90) scale(0.965)" d="M0,-13.45 V-0.65"/>
<path transform="translate(21.6,173.55) rotate(-90) scale(0.965)" d="M-6.1,-13.45 L0,-0.65 L6.1,-13.45"/>
<path transform="translate(21.6,157.00) rotate(-90) scale(0.965)" d="M-5.75,-7.3 H5.75 C5.75,-10.8 3.2,-13.45 0,-13.45 C-3.2,-13.45 -5.75,-10.6 -5.75,-7.05 C-5.75,-3.5 -3.2,-0.65 0,-0.65 C2.2,-0.65 4.1,-1.8 5.2,-3.4"/>
<path transform="translate(21.6,120.10) rotate(-90) scale(0.965)" d="M-5.6,-0.65 V-19.9 H5.6 M-5.6,-9.7 H4.1"/>
<path transform="translate(21.6,108.10) rotate(-90) scale(0.965)" d="M0,-20.5 V-0.65"/>
<path transform="translate(21.6,95.80) rotate(-90) scale(0.965)" d="M-5.2,-13.45 V-4.5 C-5.2,-2.0 -3.3,-0.65 -0.6,-0.65 C2.0,-0.65 4.0,-1.9 5.2,-4.2 M5.2,-13.45 V-0.65"/>
<path transform="translate(21.6,79.00) rotate(-90) scale(0.965)" d="M-5.6,-13.45 L5.6,-0.65 M5.6,-13.45 L-5.6,-0.65"/>
<circle cx="1.9" cy="185.2" r="1.05" fill="#000" stroke="none"/>
</g>
</svg>
</body></html>
